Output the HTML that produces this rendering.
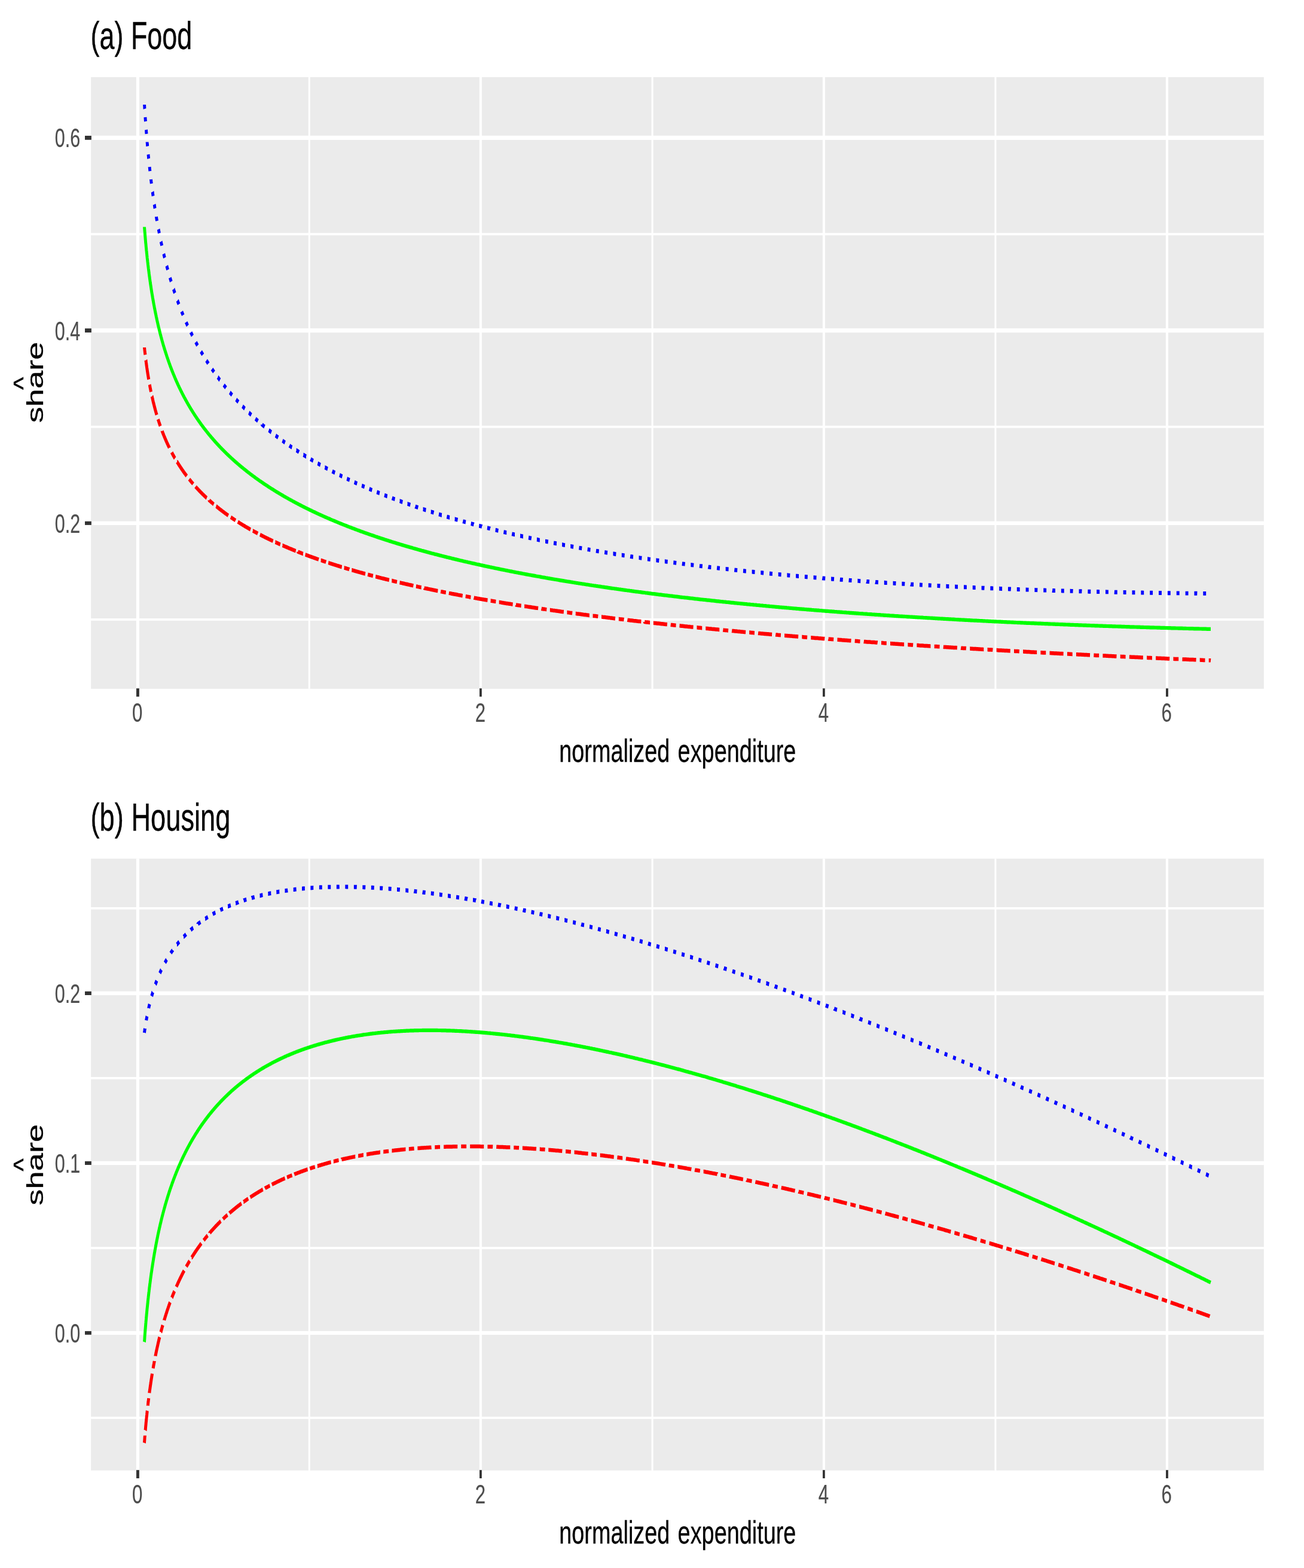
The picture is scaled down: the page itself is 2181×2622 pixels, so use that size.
<!DOCTYPE html>
<html><head><meta charset="utf-8"><title>Engel curves</title>
<style>html,body{margin:0;padding:0;background:#fff}svg{display:block}text{font-family:"Liberation Sans",Arial,Helvetica,sans-serif}</style>
</head><body>
<svg width="2181" height="2622" viewBox="0 0 2181 2622">
<rect width="2181" height="2622" fill="#FFFFFF"/>
<rect x="152.10" y="129.00" width="1961.80" height="1022.80" fill="#EBEBEB"/>
<rect x="152.10" y="389.61" width="1961.80" height="3.80" fill="#FFFFFF"/>
<rect x="152.10" y="711.83" width="1961.80" height="3.80" fill="#FFFFFF"/>
<rect x="152.10" y="1034.05" width="1961.80" height="3.80" fill="#FFFFFF"/>
<rect x="515.73" y="129.00" width="3.00" height="1022.80" fill="#FFFFFF"/>
<rect x="1089.59" y="129.00" width="3.00" height="1022.80" fill="#FFFFFF"/>
<rect x="1663.45" y="129.00" width="3.00" height="1022.80" fill="#FFFFFF"/>
<rect x="152.10" y="226.85" width="1961.80" height="7.10" fill="#FFFFFF"/>
<rect x="152.10" y="549.07" width="1961.80" height="7.10" fill="#FFFFFF"/>
<rect x="152.10" y="871.64" width="1961.80" height="6.40" fill="#FFFFFF"/>
<rect x="227.90" y="129.00" width="5.10" height="1022.80" fill="#FFFFFF"/>
<rect x="801.90" y="129.00" width="4.00" height="1022.80" fill="#FFFFFF"/>
<rect x="1375.90" y="129.00" width="4.00" height="1022.80" fill="#FFFFFF"/>
<rect x="1949.90" y="129.00" width="4.10" height="1022.80" fill="#FFFFFF"/>
<path transform="scale(0.77,1)" d="M313.7,581L313.7,581.2L313.8,581.9L313.9,582.7L314,583.4L314.1,584.1L314.2,584.9L314.3,585.6L314.4,586.3L314.5,586.9L314.6,587.6L314.7,588.4L314.8,589.1L314.9,589.8L315,590.6L315.2,591.3L315.3,591.9L315.3,592.6L315.4,593.2M316.8,602.2L316.9,602.4L317,603.1L317.1,603.8L317.2,604.6L317.4,605.3L317.5,606L317.6,606.6L317.7,607.3L317.8,608.1L318,608.8L318.1,609.5L318.2,610.3L318.3,611L318.4,611.5L318.6,612.3L318.7,613L318.8,613.7L319,614.5L319.1,615.2L319.2,615.8L319.3,616.5L319.5,617.2L319.6,618L319.8,618.7L319.9,619.3L320,620L320.1,620.7L320.3,621.5L320.4,622.2L320.6,622.9L320.7,623.5L320.8,624.2L321,625L321.1,625.7L321.3,626.4L321.4,627.1L321.5,627.7L321.7,628.4L321.9,629.2L322,629.9L322.2,630.6L322.3,631.2L322.4,631.9L322.6,632.7L322.8,633.4L322.9,634.1L323,634.5M325,643.1L325,643.1L325.2,643.8L325.3,644.4L325.5,645.1L325.6,645.9L325.8,646.6L326,647.3L326.1,647.9L326.3,648.6L326.5,649.3L326.7,650.1L326.8,650.6L327,651.4L327.2,652.1L327.4,652.8L327.6,653.6L327.7,654.1L327.9,654.8L328,655.2M330.1,662.8L330.2,662.9L330.4,663.6L330.6,664.4L330.7,664.9L331,665.7L331.2,666.4L331.4,667.1L331.6,667.7L331.8,668.4L332,669.1L332.2,669.9L332.4,670.4L332.6,671.1L332.8,671.9L333,672.4L333.2,673.2L333.5,673.9L333.7,674.6L333.9,675.2L334.1,675.9L334.4,676.6L334.6,677.2L334.8,677.9L335,678.6L335.3,679.4L335.5,679.9L335.7,680.7L336,681.4L336.1,681.9L336.4,682.7L336.6,683.4L336.9,684.1L337.1,684.7L337.3,685.4L337.6,686.2L337.8,686.7L338.1,687.4L338.3,688.2L338.5,688.7L338.8,689.4L339.1,690.2L339.3,690.7L339.5,691.5L339.8,692.2L340,692.7L340.3,693.5L340.4,693.8M343.3,701.1L343.3,701.1L343.6,701.9L343.9,702.4L344.2,703.2L344.5,703.9L344.7,704.4L345,705.2L345.3,705.9L345.6,706.5L345.9,707.2L346.1,707.8L346.4,708.5L346.8,709.2L347,709.7L347.3,710.5L347.7,711.2L347.9,711.8L348.2,712.5M352.2,720.8L352.2,720.9L352.5,721.4L352.8,722.2L353.1,722.7L353.5,723.5L353.8,724.2L354.1,724.7L354.5,725.5L354.8,726L355.2,726.7L355.4,727.3L355.8,728L356.2,728.7L356.5,729.3L356.9,730L357.2,730.6L357.6,731.3L357.9,731.9L358.3,732.6L358.6,733.1L359,733.9L359.3,734.4L359.7,735.1L360,735.8L360.4,736.4L360.8,737.1L361.1,737.7L361.6,738.4L361.9,739L362.3,739.7L362.6,740.3L363.1,741L363.4,741.5L363.8,742.3L364.2,742.8L364.6,743.5L364.9,744.1L365.4,744.8L365.7,745.4L366.2,746.1L366.5,746.6L367,747.4L367.3,747.9L367.8,748.6L367.9,748.9M373,756.5L373.1,756.7L373.5,757.2L373.9,757.9L374.3,758.5L374.7,759.1L375.2,759.8L375.6,760.3L376.1,761.1L376.5,761.6L377,762.3L377.5,762.9L377.9,763.4L378.4,764.2L378.8,764.7L379.3,765.4L379.7,766L380.1,766.4M384.6,772.4L384.7,772.4L385.1,772.9L385.5,773.5L386.1,774.2L386.6,774.7L387.1,775.4L387.6,776L388.1,776.6L388.6,777.3L389.1,777.8L389.6,778.4L390.2,779.1L390.7,779.7L391.1,780.2L391.7,780.9L392.2,781.5L392.7,782L393.3,782.7L393.8,783.3L394.3,783.9L394.8,784.4L395.4,785.1L395.9,785.7L396.4,786.2L397.1,787L397.6,787.5L398.1,788.1L398.7,788.7L399.2,789.3L399.7,789.9L400.3,790.4L400.9,791.2L401.5,791.7L402,792.3L402.5,792.8L403.2,793.5L403.7,794.1L404.3,794.6L404.8,795.2L405.5,795.9L405.6,796M410.9,801.2L410.9,801.2L411.4,801.7L412,802.3L412.6,802.8L413.3,803.5L413.9,804.1L414.5,804.6L415.1,805.2L415.7,805.7L416.4,806.4L417.1,807L417.7,807.6L418.3,808.1L418.9,808.6L419.5,809.2L419.6,809.3M424.7,813.7L424.7,813.7L425.3,814.3L426,814.8L426.6,815.4L427.3,815.9L428,816.5L428.8,817.2L429.5,817.7L430.1,818.3L430.8,818.8L431.5,819.4L432.1,819.9L432.8,820.5L433.5,821L434.2,821.6L435,822.2L435.7,822.8L436.5,823.4L437.2,823.9L437.9,824.5L438.6,825L439.3,825.6L440,826.1L440.7,826.7L441.5,827.2L442.2,827.7L442.9,828.3L443.6,828.8L444.4,829.4L445.1,829.9L445.9,830.5L446.6,831L447.4,831.6L448.1,832.1L448.9,832.7L449.1,832.8M454.5,836.6L454.5,836.7L455.3,837.2L456.1,837.7L456.9,838.3L457.7,838.8L458.5,839.4L459.3,839.9L460.2,840.5L461,841L461.8,841.6L462.6,842.1L463.5,842.7L464.3,843.2L464.3,843.2M469.4,846.5L469.7,846.6L470.5,847.1L471.3,847.6L472,848.1L472.9,848.6L473.8,849.2L474.7,849.7L475.6,850.3L476.5,850.8L477.4,851.4L478.2,851.9L479,852.3L479.8,852.8L480.7,853.4L481.6,853.9L482.6,854.4L483.5,855L484.4,855.5L485.2,856L486,856.4L487,857L487.9,857.5L488.9,858.1L489.8,858.6L490.6,859L491.5,859.5L492.4,860.1L493.4,860.6L494.4,861.2L495.2,861.6L495.9,862M501.2,864.8L501.4,864.9L502.2,865.3L503.2,865.9L504.2,866.4L505.2,866.9L506,867.3L507,867.9L508.1,868.4L509.1,868.9L509.9,869.3L510.9,869.8L511.6,870.2M516.5,872.6L516.7,872.7L517.6,873.2L518.6,873.6L519.7,874.2L520.7,874.7L521.6,875.1L522.7,875.6L523.8,876.1L524.6,876.5L525.8,877.1L526.9,877.6L527.7,878L528.8,878.5L530,879L530.8,879.4L532,880L533,880.5L534,880.9L535.1,881.4L536.1,881.9L537.1,882.3L538.4,882.9L539.2,883.2L540.4,883.8L541.5,884.3L542.4,884.7L543.7,885.2L544.2,885.4M549.2,887.6L549.3,887.6L550.4,888.1L551.6,888.6L552.5,889L553.8,889.5L554.7,889.9L556,890.4L557,890.9L558.2,891.3L559.3,891.8L559.9,892.1M564.8,894L564.8,894L566.2,894.6L567.1,894.9L568.4,895.5L569.3,895.9L570.7,896.4L571.7,896.8L573,897.3L574,897.7L575.4,898.2L576.3,898.6L577.7,899.1L578.6,899.5L580.1,900L581,900.4L582.4,900.9L583.4,901.3L584.8,901.8L585.8,902.2L587.1,902.6L588.3,903L589.4,903.5L590.7,903.9L591.7,904.3L593.1,904.8M598,906.6L598.2,906.6L599.5,907.1L600.7,907.5L601.8,907.9L603.3,908.4L604.3,908.8L605.6,909.3L606.9,909.7L608,910.1L608.9,910.4M613.7,912L613.8,912L614.9,912.4L616.4,912.9L617.5,913.3L618.8,913.7L620.2,914.2L621.3,914.5L622.6,915L624.1,915.4L625.2,915.8L626.5,916.2L627.9,916.7L629,917.1L630.4,917.5L631.8,917.9L633,918.3L634.2,918.7L635.8,919.2L636.9,919.6L638.1,919.9L639.6,920.4L641,920.8L642.1,921.2L642.5,921.3M647.3,922.7L647.3,922.8L648.6,923.1L649.7,923.5L651.2,923.9L652.7,924.4L653.9,924.7L655.1,925.1L656.6,925.5L658.1,926L658.3,926M663.1,927.5L663.6,927.6L664.9,928L666.1,928.3L667.4,928.7L669,929.1L670.5,929.6L671.8,929.9L673,930.3L674.4,930.7L675.9,931.1L677.5,931.5L678.8,931.9L680,932.2L681.3,932.6L682.9,933L684.4,933.4L685.9,933.8L687.2,934.2L688.5,934.6L689.8,934.9L691.4,935.3L692.2,935.6M697.1,936.9L697.2,936.9L698.5,937.2L699.9,937.6L701.4,938L703,938.4L704.5,938.8L706,939.2L707.4,939.5L708.2,939.8M713.2,941L713.7,941.1L715.1,941.5L716.5,941.9L717.9,942.2L719.3,942.6L720.7,942.9L722.3,943.3L723.8,943.7L725.3,944.1L726.9,944.4L728.4,944.8L730,945.2L731.5,945.6L733,945.9L734.5,946.3L736,946.6L737.5,947L738.9,947.4L740.4,947.7L741.9,948.1L742.5,948.2M747.6,949.4L747.7,949.4L749.3,949.8L750.8,950.1L752.4,950.5L753.9,950.9L755.5,951.2L757,951.6L758.6,951.9L758.8,952M764.1,953.2L764.2,953.2L765.8,953.5L767.3,953.9L768.9,954.2L770.5,954.6L772.1,955L773.7,955.3L775.3,955.7L776.9,956L778.6,956.4L780.2,956.7L781.7,957.1L783.3,957.4L784.8,957.7L786.4,958L787.9,958.4L789.4,958.7L791,959L792.5,959.4L793.5,959.6M798.9,960.7L799.3,960.8L801,961.1L802.6,961.5L804.1,961.8L805.7,962.1L807.2,962.4L808.8,962.7L810.2,963M815.8,964.2L816.5,964.3L818,964.6L819.6,964.9L821.1,965.2L822.7,965.5L824.4,965.9L826.2,966.2L828,966.6L829.6,966.9L831.2,967.2L832.7,967.5L834.3,967.8L836.1,968.1L837.9,968.5L839.7,968.8L841.2,969.1L842.7,969.4L844.3,969.7L845.3,969.9M851,971L851.2,971L852.8,971.3L854.6,971.6L856.4,972L858.2,972.3L859.7,972.6L861.3,972.9L862.3,973.1M868.2,974.2L868.8,974.3L870.5,974.6L872.1,974.9L873.7,975.1L875.6,975.5L877.5,975.8L879,976.1L880.6,976.4L882.5,976.7L884.4,977L886,977.3L887.5,977.6L889.4,977.9L891.4,978.3L892.9,978.5L894.5,978.8L896.5,979.1L897.9,979.4M903.8,980.4L904.5,980.5L906.1,980.8L907.7,981.1L909.7,981.4L911.5,981.7L913,981.9L914.9,982.3L915.1,982.3M921.4,983.3L921.5,983.4L923.3,983.7L925.4,984L926.9,984.2L928.6,984.5L930.7,984.9L932.3,985.1L934,985.4L936.1,985.7L937.7,986L939.4,986.2L941.5,986.6L943.1,986.9L944.8,987.1L947,987.5L948.5,987.7L950.3,988L951,988.1M957.3,989.1L957.8,989.2L959.4,989.4L961.4,989.7L963.2,990L964.8,990.2L967,990.6L968.6,990.8M975.1,991.8L975.6,991.9L977.2,992.1L979.4,992.4L981,992.7L983,993L984.8,993.2L986.5,993.5L988.7,993.8L990.3,994L992.3,994.3L994.1,994.6L995.8,994.9L998,995.2L999.5,995.4L1001.8,995.7L1003.4,996L1004.8,996.2M1011.3,997.1L1011.3,997.1L1013.4,997.4L1015,997.6L1017.3,997.9L1018.8,998.1L1021,998.5L1022.6,998.7M1029.3,999.6L1029.6,999.7L1031.2,999.9L1033.4,1000.2L1035,1000.4L1037.1,1000.7L1038.9,1000.9L1040.8,1001.2L1042.8,1001.5L1044.6,1001.7L1046.6,1002L1048.4,1002.2L1050.5,1002.5L1052.2,1002.7L1054.4,1003L1056,1003.2L1058.2,1003.5L1059.1,1003.6M1065.8,1004.5L1065.9,1004.5L1067.7,1004.8L1069.8,1005L1071.6,1005.3L1073.7,1005.5L1075.5,1005.8L1077.1,1006M1084,1006.9L1084.5,1006.9L1086.1,1007.1L1088.3,1007.4L1090.1,1007.7L1092.2,1007.9L1094.1,1008.2L1096.1,1008.4L1098.1,1008.7L1099.9,1008.9L1102.2,1009.2L1103.8,1009.4L1106.1,1009.7L1107.7,1009.8L1110,1010.1L1111.8,1010.4L1113.8,1010.6M1120.7,1011.4L1120.8,1011.5L1122.8,1011.7L1124.6,1011.9L1127,1012.2L1128.5,1012.4L1130.8,1012.7L1132.1,1012.8M1139.1,1013.7L1139.3,1013.7L1141.2,1013.9L1143.2,1014.1L1145.4,1014.4L1147,1014.6L1149.3,1014.9L1151.2,1015.1L1153.2,1015.3L1155.5,1015.6L1157.1,1015.8L1159.4,1016L1161.3,1016.2L1163.2,1016.5L1165.6,1016.7L1167.2,1016.9L1169,1017.1M1176,1017.9L1176.4,1018L1178.7,1018.2L1180.5,1018.4L1182.6,1018.6L1184.9,1018.9L1186.5,1019.1L1187.4,1019.2M1194.6,1020L1194.9,1020L1197,1020.3L1198.8,1020.4L1201.1,1020.7L1203.1,1020.9L1205,1021.1L1207.3,1021.4L1209.3,1021.6L1211.1,1021.8L1213.4,1022L1215.5,1022.2L1217.3,1022.4L1219.6,1022.7L1221.7,1022.9L1223.5,1023.1L1224.5,1023.2M1231.7,1024L1232,1024L1234.2,1024.2L1235.8,1024.4L1238.2,1024.7L1240.5,1024.9L1242.2,1025.1L1243.1,1025.2M1250.4,1025.9L1250.5,1025.9L1252.8,1026.2L1255,1026.4L1256.7,1026.6L1259,1026.8L1261.3,1027L1263.1,1027.2L1265.2,1027.4L1267.5,1027.7L1269.7,1027.9L1271.4,1028L1273.7,1028.3L1276,1028.5L1277.9,1028.7L1279.9,1028.9L1280.3,1028.9M1287.7,1029.7L1287.9,1029.7L1289.9,1029.9L1292.2,1030.1L1294.5,1030.3L1296.3,1030.5L1298.4,1030.7L1299.1,1030.8M1306.5,1031.5L1306.9,1031.5L1309.2,1031.8L1311.5,1032L1313.3,1032.1L1315.4,1032.3L1317.7,1032.6L1320,1032.8L1321.9,1033L1323.9,1033.1L1326.2,1033.4L1328.5,1033.6L1330.6,1033.8L1332.4,1033.9L1334.7,1034.2L1336.4,1034.3M1343.9,1035L1344,1035L1346.3,1035.2L1348.2,1035.4L1350.1,1035.6L1352.5,1035.8L1354.8,1036L1355.3,1036.1M1362.8,1036.7L1363.3,1036.8L1365.6,1037L1367.9,1037.2L1369.7,1037.4L1371.8,1037.5L1374.1,1037.7L1376.4,1038L1378.7,1038.2L1380.6,1038.3L1382.6,1038.5L1384.9,1038.7L1387.2,1038.9L1389.5,1039.1L1391.7,1039.3L1392.7,1039.4M1400.3,1040L1400.3,1040.1L1402.7,1040.3L1404.7,1040.4L1406.6,1040.6L1408.8,1040.8L1411.2,1041L1411.7,1041M1419.3,1041.7L1419.7,1041.7L1421.6,1041.9L1423.5,1042L1425.8,1042.2L1428.2,1042.4L1430.5,1042.6L1432.8,1042.8L1435,1043L1436.9,1043.2L1439,1043.3L1441.3,1043.5L1443.6,1043.7L1445.9,1043.9L1448.2,1044.1L1449.2,1044.2M1456.8,1044.8L1457.5,1044.9L1459.8,1045L1462.1,1045.2L1464.2,1045.4L1466.2,1045.6L1468.3,1045.7M1476,1046.3L1476,1046.3L1478.1,1046.5L1480.1,1046.7L1482.2,1046.8L1484.5,1047L1486.8,1047.2L1489.2,1047.4L1491.5,1047.6L1493.8,1047.8L1496.1,1047.9L1498.2,1048.1L1500.2,1048.3L1502.3,1048.4L1504.6,1048.6L1505.9,1048.7M1513.6,1049.3L1513.9,1049.3L1516.2,1049.5L1518.5,1049.7L1520.7,1049.8L1522.8,1050L1524.8,1050.2L1525,1050.2M1532.8,1050.8L1533.1,1050.8L1535.2,1050.9L1537.3,1051.1L1539.4,1051.3L1541.7,1051.4L1544,1051.6L1546.3,1051.8L1548.6,1051.9L1550.9,1052.1L1553.3,1052.3L1555.6,1052.5L1557.9,1052.6L1560.2,1052.8L1562.5,1053L1562.7,1053M1570.5,1053.5L1571,1053.6L1573.3,1053.8L1575.6,1053.9L1577.8,1054.1L1579.9,1054.2L1581.9,1054.4M1589.7,1054.9L1590.3,1055L1592.7,1055.1L1595,1055.3L1597.3,1055.5L1599.6,1055.6L1601.8,1055.8L1604,1055.9L1606.2,1056.1L1608.4,1056.3L1610.6,1056.4L1612.8,1056.6L1615.1,1056.7L1617.4,1056.9L1619.7,1057M1627.5,1057.6L1628.2,1057.6L1630.5,1057.8L1632.8,1058L1635.1,1058.1L1637.4,1058.3L1638.9,1058.4M1646.8,1058.9L1647.5,1059L1649.8,1059.1L1652.1,1059.3L1654.4,1059.4L1656.8,1059.6L1659.1,1059.7L1661.4,1059.9L1663.7,1060L1666,1060.2L1668.3,1060.3L1670.7,1060.5L1673,1060.7L1675.3,1060.8L1676.8,1060.9M1684.7,1061.4L1685.3,1061.5L1687.6,1061.6L1690,1061.8L1692.3,1061.9L1694.6,1062.1L1696.1,1062.2M1704,1062.7L1704.6,1062.7L1707,1062.9L1709.3,1063L1711.6,1063.2L1713.9,1063.3L1716.2,1063.5L1718.5,1063.6L1720.9,1063.7L1723.2,1063.9L1725.5,1064L1727.8,1064.2L1730.1,1064.3L1732.4,1064.5L1734,1064.6M1741.9,1065.1L1742.5,1065.1L1744.8,1065.2L1747.1,1065.4L1749.4,1065.5L1751.8,1065.7L1753.4,1065.8M1761.4,1066.3L1761.8,1066.3L1764.1,1066.4L1766.4,1066.6L1768.7,1066.7L1771.1,1066.9L1773.4,1067L1775.7,1067.1L1778,1067.3L1780.4,1067.4L1783,1067.6L1785.5,1067.7L1788,1067.9L1790.4,1068L1791.3,1068.1M1799.3,1068.5L1799.6,1068.6L1802,1068.7L1804.3,1068.8L1806.6,1069L1808.9,1069.1L1810.7,1069.2M1818.8,1069.7L1818.9,1069.7L1821.3,1069.8L1823.7,1070L1826.2,1070.1L1828.8,1070.3L1831.3,1070.4L1833.6,1070.5L1835.9,1070.7L1838.3,1070.8L1840.6,1070.9L1842.9,1071.1L1845.2,1071.2L1847.5,1071.3L1848.7,1071.4M1856.8,1071.8L1856.8,1071.8L1859.1,1072L1861.4,1072.1L1863.7,1072.2L1866.1,1072.4L1868.2,1072.5M1876.3,1072.9L1876.9,1073L1879.2,1073.1L1881.5,1073.2L1884.1,1073.4L1886.8,1073.5L1889.2,1073.6L1891.5,1073.8L1893.9,1073.9L1896.2,1074L1898.5,1074.1L1900.8,1074.3L1903.1,1074.4L1905.7,1074.5L1906.2,1074.6M1914.3,1075L1914.7,1075L1917,1075.1L1919.4,1075.3L1922.1,1075.4L1924.7,1075.6L1925.7,1075.6M1933.8,1076L1934,1076L1936.3,1076.2L1938.7,1076.3L1941.4,1076.4L1944.1,1076.6L1946.4,1076.7L1948.7,1076.8L1951,1076.9L1953.3,1077.1L1955.6,1077.2L1958.2,1077.3L1961,1077.5L1963.4,1077.6L1963.8,1077.6M1971.9,1078L1972.3,1078L1974.9,1078.2L1977.3,1078.3L1979.6,1078.4L1981.9,1078.5L1983.3,1078.6M1991.4,1079L1991.9,1079L1994.3,1079.1L1996.6,1079.3L1998.9,1079.4L2001.2,1079.5L2003.7,1079.6L2006.6,1079.8L2008.9,1079.9L2011.2,1080L2013.6,1080.1L2015.9,1080.2L2018.2,1080.3L2021.1,1080.5L2021.4,1080.5M2029.5,1080.9L2029.8,1080.9L2032.1,1081L2034.4,1081.1L2036.7,1081.2L2039.1,1081.3L2041,1081.4M2049.1,1081.8L2049.9,1081.9L2052.2,1082L2054.5,1082.1L2056.8,1082.2L2059.4,1082.3L2062.2,1082.5L2064.5,1082.6L2066.9,1082.7L2069.2,1082.8L2071.5,1082.9L2074.3,1083L2076.9,1083.1L2079.1,1083.3M2087.2,1083.6L2087.7,1083.7L2090,1083.8L2092.4,1083.9L2095.4,1084L2097.7,1084.1L2098.6,1084.2M2106.8,1084.5L2107,1084.5L2109.3,1084.7L2111.6,1084.8L2114,1084.9L2116.8,1085L2119.4,1085.1L2121.7,1085.2L2124,1085.3L2126.3,1085.4L2129.2,1085.6L2131.7,1085.7L2134,1085.8L2136.4,1085.9L2136.8,1085.9M2144.9,1086.3L2145.6,1086.3L2147.9,1086.4L2151,1086.5L2153.4,1086.6L2155.7,1086.7L2156.4,1086.8M2164.5,1087.1L2164.9,1087.1L2167.3,1087.2L2169.9,1087.4L2172.7,1087.5L2175,1087.6L2177.3,1087.7L2179.6,1087.8L2182.6,1087.9L2185,1088L2187.3,1088.1L2189.7,1088.2L2192.1,1088.3L2194.5,1088.4M2202.6,1088.8L2202.8,1088.8L2205.1,1088.9L2208.2,1089L2210.5,1089.1L2212.8,1089.2L2214.1,1089.3M2222.2,1089.6L2222.9,1089.6L2225.2,1089.7L2227.7,1089.8L2230.6,1089.9L2232.9,1090L2235.2,1090.1L2237.5,1090.2L2240.6,1090.4L2242.9,1090.5L2245.3,1090.6L2247.6,1090.7L2250.6,1090.8L2252.2,1090.8M2260.3,1091.2L2260.6,1091.2L2263,1091.3L2265.3,1091.4L2267.7,1091.5L2270.5,1091.6L2271.8,1091.6M2279.9,1092L2280,1092L2282.3,1092.1L2284.6,1092.2L2287.3,1092.3L2290.1,1092.4L2292.4,1092.5L2294.7,1092.6L2297.4,1092.7L2300.1,1092.8L2302.4,1092.9L2304.7,1093L2307.6,1093.1L2309.9,1093.2M2318.1,1093.5L2318.6,1093.5L2321.2,1093.6L2324,1093.7L2326.4,1093.8L2328.7,1093.9L2329.5,1093.9M2337.6,1094.2L2337.9,1094.2L2340.3,1094.3L2342.6,1094.4L2345.3,1094.5L2348,1094.6L2350.3,1094.7L2352.6,1094.8L2355.7,1094.9L2358,1095L2360.3,1095.1L2362.7,1095.2L2365.7,1095.3L2367.6,1095.4M2375.8,1095.7L2375.8,1095.7L2378.1,1095.8L2380.4,1095.9L2383.5,1096L2385.8,1096.1L2387.2,1096.1M2395.3,1096.4L2395.9,1096.4L2398.2,1096.5L2401.3,1096.6L2403.6,1096.7L2405.9,1096.8L2408.5,1096.9L2411.3,1097L2413.6,1097.1L2415.9,1097.2L2419,1097.3L2421.3,1097.4L2423.7,1097.4L2425.3,1097.5M2433.4,1097.8L2433.6,1097.8L2436,1097.9L2438.3,1098L2440.9,1098.1L2443.7,1098.2L2444.9,1098.2M2453,1098.5L2453,1098.5L2455.4,1098.6L2458.4,1098.7L2460.7,1098.8L2463.1,1098.8L2466.1,1099L2468.5,1099L2470.8,1099.1L2473.7,1099.2L2476.2,1099.3L2478.5,1099.4L2481.1,1099.5L2482.9,1099.5M2491,1099.8L2491.6,1099.8L2493.9,1099.9L2496.3,1100L2499.3,1100.1L2501.7,1100.2L2502.5,1100.2M2510.5,1100.5L2510.8,1100.5L2513.3,1100.6L2515.6,1100.7L2518.3,1100.7L2521,1100.8L2523.3,1100.9L2525.8,1101L2528.7,1101.1L2531,1101.2L2533.4,1101.3L2536.4,1101.4L2538.7,1101.4L2540.5,1101.5M2548.6,1101.8L2548.8,1101.8L2551.9,1101.9L2554.2,1101.9L2556.5,1102L2559.6,1102.1L2560,1102.1M2568.1,1102.4L2568.1,1102.4L2571.2,1102.5L2573.5,1102.6L2575.8,1102.6L2578.9,1102.7L2581.2,1102.8L2583.5,1102.9L2586.6,1103L2588.9,1103.1L2591.3,1103.1L2594.3,1103.2L2596.7,1103.3L2598.1,1103.4M2606.1,1103.6L2606.3,1103.6L2609,1103.7L2611.3,1103.8L2614.2,1103.9L2616.7,1104L2617.5,1104M2625.6,1104.2L2625.9,1104.2L2626,1104.2L2626.8,1104.3L2627.6,1104.3L2628.3,1104.3L2629.1,1104.3L2629.9,1104.4" fill="none" stroke="#FF0000" stroke-width="6.5" stroke-linejoin="round"/>
<path transform="scale(0.8,1)" d="M301.9,379.6L301.9,379.9L302,380.9L302.1,381.9L302.2,382.9L302.3,383.9L302.4,384.9L302.5,385.9L302.6,386.9L302.7,387.6L302.8,388.6L302.9,389.6L303,390.6L303.1,391.6L303.2,392.6L303.3,393.6L303.4,394.5L303.5,395.4L303.6,396.4L303.7,397.4L303.8,398.4L303.9,399.4L304,400.4L304.1,401.3L304.2,402.1L304.3,403.1L304.4,404.1L304.5,405.1L304.6,406.1L304.8,407.1L304.9,408L305,408.8L305.1,409.8L305.2,410.8L305.3,411.8L305.4,412.8L305.6,413.8L305.6,414.6L305.8,415.6L305.9,416.6L306,417.6L306.1,418.6L306.3,419.6L306.4,420.4L306.5,421.3L306.6,422.3L306.7,423.3L306.9,424.3L307,425.3L307.1,426.2L307.2,427.1L307.3,428.1L307.5,429.1L307.6,430.1L307.7,431.1L307.8,431.8L308,432.8L308.1,433.8L308.3,434.8L308.4,435.8L308.5,436.8L308.6,437.5L308.8,438.5L308.9,439.5L309.1,440.5L309.2,441.5L309.3,442.4L309.5,443.3L309.6,444.3L309.8,445.3L309.9,446.3L310.1,447.3L310.2,448L310.3,449L310.5,450L310.6,451L310.8,452L310.9,452.7L311.1,453.7L311.2,454.7L311.4,455.7L311.5,456.7L311.6,457.5L311.8,458.5L312,459.5L312.1,460.5L312.3,461.5L312.4,462.2L312.6,463.2L312.8,464.2L312.9,465.2L313.1,465.9L313.2,466.9L313.4,467.9L313.6,468.9L313.7,469.9L313.9,470.7L314.1,471.7L314.2,472.7L314.4,473.7L314.5,474.4L314.7,475.4L314.9,476.4L315.1,477.4L315.3,478.4L315.4,479.1L315.6,480.1L315.8,481.1L316,482.1L316.1,482.9L316.3,483.9L316.5,484.9L316.7,485.9L316.9,486.6L317,487.6L317.2,488.6L317.4,489.6L317.6,490.3L317.8,491.3L318,492.3L318.2,493.3L318.4,494.1L318.6,495.1L318.8,496.1L319,497.1L319.1,497.8L319.4,498.8L319.6,499.8L319.7,500.6L319.9,501.5L320.2,502.5L320.4,503.5L320.6,504.3L320.8,505.3L321,506.3L321.2,507.3L321.4,508L321.6,509L321.8,510L322,510.7L322.3,511.7L322.5,512.7L322.7,513.7L322.9,514.5L323.1,515.5L323.4,516.5L323.6,517.2L323.8,518.2L324,519.2L324.2,519.9L324.5,520.9L324.7,521.9L324.9,522.8L325.2,523.7L325.4,524.7L325.7,525.7L325.9,526.4L326.1,527.4L326.4,528.4L326.6,529.1L326.8,530.1L327.1,531.1L327.3,531.9L327.6,532.9L327.8,533.9L328,534.6L328.3,535.6L328.6,536.6L328.8,537.3L329.1,538.3L329.4,539.3L329.6,540.1L329.9,541.1L330.1,542.1L330.4,542.8L330.6,543.8L330.9,544.6L331.1,545.5L331.4,546.5L331.7,547.3L332,548.3L332.3,549.3L332.5,550L332.8,551L333.1,552L333.3,552.7L333.6,553.7L333.9,554.5L334.2,555.5L334.5,556.5L334.7,557.2L335,558.2L335.3,559.1L335.6,560L335.9,560.9L336.2,561.7L336.5,562.7L336.8,563.7L337.1,564.4L337.4,565.4L337.7,566.2L338,567.2L338.3,568.1L338.6,568.9L339,569.9L339.2,570.6L339.6,571.6L339.8,572.4L340.2,573.4L340.5,574.4L340.8,575.1L341.2,576.1L341.4,576.8L341.8,577.8L342.1,578.6L342.4,579.6L342.8,580.5L343.1,581.3L343.5,582.3L343.7,583L344.1,584L344.4,584.8L344.8,585.8L345.1,586.5L345.5,587.5L345.8,588.3L346.2,589.3L346.5,590.1L346.9,591L347.2,591.9L347.6,592.7L348,593.7L348.3,594.5L348.7,595.5L349,596.2L349.4,597.2L349.7,597.9L350.1,598.9L350.5,599.7L350.9,600.7L351.2,601.4L351.6,602.4L352,603.2L352.4,604.1L352.7,604.9L353.2,605.9L353.5,606.6L353.9,607.6L354.3,608.4L354.7,609.2L355.1,610.1L355.4,610.9L355.9,611.8L356.2,612.6L356.7,613.6L357,614.3L357.5,615.3L357.9,616L358.3,617L358.7,617.8L359.1,618.7L359.5,619.5L359.9,620.3L360.4,621.3L360.8,622L361.2,623L361.6,623.7L362.1,624.7L362.5,625.5L362.9,626.2L363.4,627.2L363.8,627.9L364.3,628.9L364.7,629.7L365.1,630.5L365.6,631.4L366,632.2L366.5,633.2L366.9,633.9L367.3,634.6L367.9,635.6L368.3,636.4L368.8,637.3L369.2,638.1L369.6,638.9L370.2,639.8L370.6,640.6L371,641.3L371.6,642.3L372,643.1L372.5,643.9L373,644.8L373.5,645.5L374,646.5L374.5,647.3L374.9,648L375.5,649L376,649.8L376.4,650.5L377,651.4L377.5,652.2L377.9,653L378.5,653.8L379,654.7L379.5,655.4L379.9,656.2L380.5,657.2L381,657.9L381.5,658.7L382.1,659.7L382.6,660.4L383.1,661.1L383.7,662L384.2,662.9L384.7,663.6L385.2,664.4L385.9,665.3L386.4,666.1L386.9,666.8L387.4,667.6L388.1,668.6L388.6,669.3L389.1,670L389.6,670.8L390.3,671.8L390.8,672.5L391.3,673.3L391.9,674L392.6,675L393.1,675.7L393.6,676.5L394.2,677.2L394.8,678.1L395.4,678.9L396,679.7L396.5,680.4L397.1,681.2L397.8,682.1L398.4,682.9L398.9,683.6L399.5,684.4L400.1,685.1L400.8,686L401.4,686.9L402,687.6L402.6,688.3L403.2,689.1L403.7,689.8L404.5,690.7L405.1,691.5L405.7,692.3L406.3,693L406.9,693.8L407.5,694.5L408.2,695.3L408.9,696.2L409.6,697L410.2,697.7L410.8,698.5L411.4,699.2L412.1,699.9L412.7,700.7L413.4,701.5L414.1,702.3L414.8,703.1L415.5,703.9L416.1,704.6L416.8,705.4L417.4,706.1L418.1,706.8L418.8,707.6L419.4,708.3L420.1,709.1L420.8,709.9L421.6,710.7L422.3,711.5L423,712.3L423.7,713L424.4,713.7L425.1,714.5L425.8,715.2L426.5,716L427.2,716.7L427.9,717.4L428.6,718.2L429.4,718.9L430.1,719.6L430.8,720.4L431.5,721.1L432.3,721.9L433,722.6L433.7,723.3L434.5,724.1L435.2,724.8L436,725.6L436.7,726.3L437.5,727L438.2,727.8L439,728.5L439.8,729.2L440.6,730L441.3,730.7L442.1,731.5L442.9,732.2L443.7,732.9L444.5,733.7L445.3,734.4L446.1,735.1L446.9,735.9L447.6,736.5L448.3,737.2L449.1,737.9L449.9,738.6L450.7,739.3L451.5,740.1L452.4,740.8L453.2,741.5L454,742.3L454.9,743L455.7,743.7L456.5,744.4L457.3,745L458,745.7L458.9,746.4L459.8,747.2L460.6,747.9L461.5,748.6L462.4,749.4L463.2,750L463.9,750.7L464.8,751.3L465.7,752.1L466.6,752.8L467.5,753.5L468.4,754.3L469.2,754.9L469.9,755.5L470.9,756.2L471.8,757L472.7,757.7L473.6,758.4L474.4,759L475.2,759.7L476.2,760.4L477.2,761.1L478.1,761.8L478.8,762.4L479.7,763.1L480.7,763.8L481.7,764.5L482.5,765.2L483.3,765.8L484.3,766.5L485.3,767.2L486.2,767.9L487,768.4L488,769.2L489,769.9L490,770.6L490.8,771.1L491.8,771.9L492.8,772.6L493.7,773.2L494.6,773.8L495.6,774.5L496.7,775.3L497.4,775.8L498.5,776.5L499.5,777.2L500.4,777.8L501.3,778.4L502.4,779.2L503.3,779.8L504.2,780.4L505.3,781.1L506.3,781.8L507.2,782.3L508.3,783.1L509.3,783.7L510.2,784.3L511.3,785L512.3,785.6L513.2,786.2L514.4,787L515.2,787.5L516.3,788.2L517.4,788.9L518.2,789.4L519.4,790.1L520.4,790.8L521.4,791.3L522.5,792.1L523.4,792.6L524.5,793.3L525.6,793.9L526.5,794.5L527.8,795.2L528.6,795.7L529.8,796.4L530.9,797L531.9,797.6L533.1,798.3L533.9,798.8L535.2,799.6L536.1,800.1L537.3,800.8L538.3,801.4L539.4,802L540.5,802.6L541.5,803.2L542.7,803.9L543.7,804.4L545,805.1L545.9,805.6L547.2,806.3L548.1,806.8L549.4,807.5L550.3,808L551.6,808.8L552.5,809.2L553.9,810L554.8,810.4L556.1,811.2L557,811.6L558.4,812.3L559.3,812.8L560.6,813.5L561.6,814.1L562.8,814.7L563.9,815.3L565,815.8L566.3,816.5L567.3,817L568.7,817.7L569.6,818.1L571,818.8L572,819.3L573.2,820L574.4,820.5L575.5,821.1L576.8,821.7L577.8,822.2L579.2,822.9L580.3,823.4L581.4,824L582.8,824.6L583.8,825.1L585.1,825.7L586.3,826.3L587.3,826.8L588.8,827.5L589.8,828L591.1,828.5L592.4,829.2L593.4,829.7L594.8,830.3L596,830.9L597.1,831.3L598.5,832L599.7,832.5L600.8,833L602.2,833.7L603.4,834.2L604.5,834.7L605.9,835.3L607.2,835.9L608.3,836.3L609.6,836.9L611,837.5L612.1,838L613.4,838.6L614.8,839.2L616,839.7L617.1,840.2L618.6,840.8L619.9,841.3L621,841.8L622.3,842.4L623.8,843L625,843.5L626.1,844L627.5,844.5L629,845.1L630.1,845.6L631.3,846.1L632.7,846.7L634.2,847.3L635.4,847.8L636.6,848.2L637.9,848.8L639.4,849.4L640.7,849.9L641.9,850.4L643.1,850.8L644.6,851.4L646.1,852L647.3,852.5L648.6,853L649.8,853.4L651.3,854L652.8,854.6L654.1,855.1L655.3,855.6L656.6,856L658,856.5L659.5,857.1L660.9,857.7L662.2,858.1L663.5,858.6L664.8,859.1L666.1,859.6L667.6,860.1L669.1,860.7L670.6,861.2L671.9,861.7L673.2,862.1L674.5,862.6L675.8,863.1L677.3,863.6L678.8,864.2L680.3,864.7L681.7,865.2L683.1,865.7L684.4,866.1L685.8,866.6L687.1,867.1L688.5,867.5L689.9,868L691.4,868.6L692.9,869.1L694.4,869.6L695.9,870.1L697.4,870.6L698.8,871L700.2,871.5L701.6,872L703,872.4L704.4,872.9L705.8,873.4L707.2,873.8L708.6,874.3L710,874.8L711.5,875.2L713,875.7L714.5,876.2L715.9,876.7L717.4,877.2L718.9,877.6L720.4,878.1L721.9,878.6L723.4,879L724.9,879.5L726.4,880L727.8,880.4L729.3,880.9L730.8,881.4L732.3,881.8L733.8,882.3L735.3,882.7L736.8,883.2L738.3,883.6L739.7,884.1L741.2,884.5L742.7,885L744.2,885.4L745.8,885.9L747.3,886.4L748.9,886.8L750.4,887.3L752,887.7L753.6,888.2L755.2,888.7L756.8,889.1L758.3,889.6L759.8,890L761.3,890.4L762.8,890.9L764.3,891.3L765.8,891.7L767.2,892.1L768.8,892.6L770.4,893L772.1,893.5L773.7,893.9L775.4,894.4L776.9,894.8L778.4,895.2L779.9,895.6L781.4,896L782.9,896.4L784.5,896.9L786.2,897.4L787.9,897.8L789.5,898.3L791,898.7L792.5,899.1L794,899.4L795.6,899.9L797.3,900.3L799,900.8L800.7,901.2L802.2,901.6L803.7,902L805.2,902.4L806.9,902.8L808.6,903.3L810.4,903.7L811.8,904.1L813.3,904.5L814.8,904.9L816.6,905.3L818.4,905.8L820,906.2L821.5,906.5L823,906.9L824.7,907.3L826.5,907.8L828.2,908.2L829.7,908.6L831.2,908.9L833,909.4L834.8,909.8L836.4,910.2L837.9,910.5L839.5,910.9L841.3,911.4L843.1,911.8L844.6,912.2L846,912.5L847.9,913L849.8,913.4L851.2,913.7L852.7,914.1L854.6,914.5L856.4,914.9L857.9,915.3L859.4,915.6L861.4,916.1L863.1,916.5L864.6,916.8L866.2,917.2L868.2,917.6L869.8,918L871.3,918.3L873.1,918.8L875,919.2L876.5,919.5L878.1,919.9L880.1,920.3L881.7,920.7L883.2,921L885.1,921.4L886.9,921.8L888.4,922.1L890.2,922.5L892.1,922.9L893.6,923.3L895.3,923.6L897.3,924.1L898.8,924.4L900.5,924.7L902.5,925.2L904,925.5L905.7,925.8L907.7,926.3L909.2,926.6L910.9,926.9L912.9,927.3L914.4,927.6L916.2,928L918.1,928.4L919.6,928.7L921.6,929.1L923.3,929.5L924.8,929.8L927,930.2L928.6,930.5L930.2,930.9L932.3,931.3L933.8,931.6L935.7,932L937.5,932.3L939,932.6L941.2,933L942.7,933.3L944.5,933.7L946.4,934.1L947.9,934.4L950.1,934.8L951.6,935.1L953.4,935.4L955.3,935.8L956.8,936.1L959,936.5L960.5,936.8L962.5,937.2L964.2,937.5L966,937.8L968,938.2L969.4,938.5L971.7,938.9L973.2,939.2L975.2,939.5L976.9,939.8L978.7,940.2L980.6,940.5L982.2,940.8L984.3,941.2L985.8,941.5L988,941.9L989.5,942.1L991.7,942.5L993.2,942.8L995.3,943.2L996.9,943.5L998.9,943.8L1000.7,944.1L1002.5,944.4L1004.4,944.8L1006.1,945.1L1008.1,945.4L1009.8,945.7L1011.8,946.1L1013.4,946.4L1015.5,946.7L1017.1,947L1019.2,947.4L1020.8,947.6L1023,948L1024.6,948.3L1026.7,948.6L1028.3,948.9L1030.4,949.2L1032.1,949.5L1034.1,949.9L1035.9,950.2L1037.8,950.5L1039.7,950.8L1041.5,951.1L1043.5,951.4L1045.3,951.7L1047.4,952.1L1049,952.3L1051.2,952.7L1052.7,952.9L1054.9,953.3L1056.4,953.5L1058.6,953.9L1060.3,954.1L1062.4,954.5L1064.3,954.8L1066.1,955.1L1068.2,955.4L1069.8,955.6L1072,956L1073.5,956.2L1075.7,956.6L1077.5,956.8L1079.5,957.2L1081.5,957.5L1083.2,957.7L1085.4,958.1L1086.9,958.3L1089.1,958.6L1091,958.9L1092.8,959.2L1095.1,959.5L1096.6,959.8L1098.8,960.1L1100.6,960.4L1102.5,960.6L1104.7,961L1106.2,961.2L1108.4,961.5L1110.2,961.8L1112.2,962.1L1114.4,962.4L1115.9,962.6L1118.1,962.9L1120,963.2L1121.8,963.5L1124.1,963.8L1125.7,964L1127.8,964.3L1130,964.6L1131.5,964.9L1133.7,965.2L1135.7,965.5L1137.4,965.7L1139.7,966L1141.4,966.3L1143.4,966.5L1145.6,966.9L1147.2,967.1L1149.3,967.4L1151.6,967.7L1153.1,967.9L1155.3,968.2L1157.5,968.5L1159,968.7L1161.2,969L1163.4,969.3L1164.9,969.5L1167.2,969.8L1169.3,970.1L1170.9,970.3L1173.1,970.6L1175.3,970.9L1176.8,971.1L1179.1,971.4L1181.3,971.7L1182.9,971.9L1185,972.2L1187.2,972.5L1188.9,972.7L1191,972.9L1193.2,973.2L1195.1,973.5L1196.9,973.7L1199.1,974L1201.2,974.3L1202.9,974.5L1205.1,974.8L1207.3,975L1209,975.3L1211,975.5L1213.3,975.8L1215.2,976L1217,976.3L1219.2,976.5L1221.4,976.8L1223.1,977L1225.2,977.3L1227.4,977.5L1229.5,977.8L1231.1,978L1233.3,978.3L1235.6,978.5L1237.5,978.8L1239.3,979L1241.5,979.3L1243.7,979.5L1245.5,979.7L1247.5,980L1249.7,980.2L1251.9,980.5L1253.7,980.7L1255.6,980.9L1257.9,981.2L1260.1,981.5L1261.9,981.7L1263.8,981.9L1266,982.2L1268.3,982.4L1270.2,982.6L1272,982.9L1274.2,983.1L1276.4,983.4L1278.5,983.6L1280.2,983.8L1282.4,984L1284.6,984.3L1286.9,984.5L1288.6,984.7L1290.6,985L1292.8,985.2L1295,985.5L1297.1,985.7L1298.8,985.9L1301,986.1L1303.2,986.4L1305.4,986.6L1307.4,986.8L1309.2,987L1311.4,987.3L1313.6,987.5L1315.8,987.7L1317.8,988L1319.6,988.1L1321.8,988.4L1324,988.6L1326.3,988.9L1328.3,989.1L1330.1,989.3L1332.2,989.5L1334.4,989.7L1336.7,990L1338.9,990.2L1340.7,990.4L1342.6,990.6L1344.8,990.8L1347.1,991L1349.3,991.3L1351.5,991.5L1353.3,991.7L1355.2,991.9L1357.5,992.1L1359.7,992.3L1361.9,992.6L1364.2,992.8L1366,993L1367.9,993.2L1370.1,993.4L1372.3,993.6L1374.6,993.8L1376.8,994.1L1378.8,994.3L1380.7,994.4L1382.7,994.6L1385,994.9L1387.2,995.1L1389.4,995.3L1391.7,995.5L1393.7,995.7L1395.6,995.9L1397.6,996.1L1399.8,996.3L1402.1,996.5L1404.3,996.7L1406.5,996.9L1408.8,997.2L1410.7,997.3L1412.6,997.5L1414.7,997.7L1416.9,997.9L1419.2,998.1L1421.4,998.4L1423.6,998.6L1425.9,998.8L1427.9,999L1429.8,999.1L1431.8,999.3L1434,999.5L1436.3,999.7L1438.5,999.9L1440.7,1000.1L1443,1000.3L1445.2,1000.5L1447.4,1000.7L1449.3,1000.9L1451.3,1001.1L1453.4,1001.3L1455.6,1001.5L1457.8,1001.7L1460.1,1001.9L1462.3,1002.1L1464.5,1002.3L1466.7,1002.5L1469,1002.7L1471.1,1002.8L1473.2,1003L1475.2,1003.2L1477.2,1003.4L1479.4,1003.6L1481.6,1003.7L1483.8,1003.9L1486.1,1004.1L1488.3,1004.3L1490.5,1004.5L1492.8,1004.7L1495,1004.9L1497.2,1005.1L1499.5,1005.3L1501.6,1005.4L1503.6,1005.6L1505.7,1005.8L1507.7,1006L1509.9,1006.1L1512.1,1006.3L1514.3,1006.5L1516.6,1006.7L1518.8,1006.9L1521,1007L1523.2,1007.2L1525.5,1007.4L1527.7,1007.6L1529.9,1007.8L1532.2,1007.9L1534.4,1008.1L1536.6,1008.3L1538.9,1008.5L1541.1,1008.7L1543.3,1008.8L1545.5,1009L1547.6,1009.2L1549.7,1009.3L1551.9,1009.5L1554,1009.7L1556.2,1009.8L1558.3,1010L1560.5,1010.2L1562.6,1010.4L1564.9,1010.5L1567.1,1010.7L1569.3,1010.9L1571.6,1011L1573.8,1011.2L1576,1011.4L1578.3,1011.5L1580.5,1011.7L1582.7,1011.9L1584.9,1012L1587.2,1012.2L1589.4,1012.4L1591.6,1012.5L1593.9,1012.7L1596.1,1012.9L1598.3,1013L1600.6,1013.2L1602.8,1013.4L1605,1013.5L1607.2,1013.7L1609.5,1013.9L1611.7,1014L1613.9,1014.2L1616.2,1014.3L1618.4,1014.5L1620.6,1014.7L1622.9,1014.8L1625.1,1015L1627.3,1015.1L1629.5,1015.3L1631.8,1015.5L1634,1015.6L1636.2,1015.8L1638.5,1015.9L1640.7,1016.1L1642.9,1016.2L1645.2,1016.4L1647.4,1016.5L1649.6,1016.7L1651.9,1016.8L1654.2,1017L1656.5,1017.2L1658.8,1017.3L1661.2,1017.5L1663.5,1017.6L1665.8,1017.8L1668.2,1018L1670.4,1018.1L1672.7,1018.3L1674.9,1018.4L1677.1,1018.6L1679.4,1018.7L1681.6,1018.8L1683.8,1019L1686,1019.1L1688.3,1019.3L1690.5,1019.4L1692.7,1019.6L1695,1019.7L1697.2,1019.9L1699.4,1020L1701.7,1020.2L1703.9,1020.3L1706.1,1020.4L1708.4,1020.6L1710.8,1020.7L1713.3,1020.9L1715.7,1021L1718,1021.2L1720.2,1021.3L1722.5,1021.5L1724.7,1021.6L1726.9,1021.8L1729.2,1021.9L1731.4,1022L1733.6,1022.2L1735.8,1022.3L1738.1,1022.4L1740.3,1022.6L1742.5,1022.7L1745,1022.9L1747.4,1023L1749.9,1023.2L1752.2,1023.3L1754.4,1023.4L1756.7,1023.6L1758.9,1023.7L1761.1,1023.8L1763.4,1024L1765.6,1024.1L1767.8,1024.2L1770,1024.4L1772.3,1024.5L1774.9,1024.6L1777.4,1024.8L1779.7,1024.9L1781.9,1025.1L1784.2,1025.2L1786.4,1025.3L1788.6,1025.4L1790.9,1025.6L1793.1,1025.7L1795.3,1025.8L1797.7,1026L1800.2,1026.1L1802.8,1026.2L1805,1026.4L1807.2,1026.5L1809.4,1026.6L1811.7,1026.7L1813.9,1026.9L1816.1,1027L1818.4,1027.1L1820.8,1027.2L1823.4,1027.4L1825.8,1027.5L1828,1027.6L1830.3,1027.8L1832.5,1027.9L1834.7,1028L1836.9,1028.1L1839.2,1028.2L1841.7,1028.4L1844.4,1028.5L1846.6,1028.6L1848.8,1028.8L1851.1,1028.9L1853.3,1029L1855.5,1029.1L1857.8,1029.2L1860.3,1029.4L1862.9,1029.5L1865.2,1029.6L1867.4,1029.7L1869.7,1029.8L1871.9,1030L1874.1,1030.1L1876.3,1030.2L1879,1030.3L1881.5,1030.5L1883.8,1030.6L1886,1030.7L1888.2,1030.8L1890.5,1030.9L1892.7,1031L1895.2,1031.1L1897.9,1031.3L1900.1,1031.4L1902.4,1031.5L1904.6,1031.6L1906.8,1031.7L1909.1,1031.8L1911.6,1031.9L1914.3,1032.1L1916.5,1032.2L1918.7,1032.3L1920.9,1032.4L1923.2,1032.5L1925.4,1032.6L1928.2,1032.7L1930.6,1032.9L1932.8,1033L1935.1,1033.1L1937.3,1033.2L1939.5,1033.3L1942.2,1033.4L1944.7,1033.5L1947,1033.6L1949.2,1033.7L1951.4,1033.8L1953.7,1033.9L1956.2,1034.1L1958.9,1034.2L1961.1,1034.3L1963.3,1034.4L1965.5,1034.5L1967.8,1034.6L1970.4,1034.7L1973,1034.8L1975.2,1034.9L1977.4,1035L1979.7,1035.1L1981.9,1035.2L1984.7,1035.3L1987.1,1035.4L1989.3,1035.5L1991.6,1035.6L1993.8,1035.7L1996.2,1035.8L1999,1036L2001.2,1036.1L2003.5,1036.2L2005.7,1036.3L2007.9,1036.3L2010.7,1036.5L2013.1,1036.6L2015.4,1036.7L2017.6,1036.8L2019.8,1036.9L2022.4,1037L2025,1037.1L2027.2,1037.2L2029.5,1037.3L2031.7,1037.3L2034.2,1037.5L2036.9,1037.6L2039.1,1037.7L2041.4,1037.7L2043.6,1037.8L2046.1,1037.9L2048.8,1038L2051,1038.1L2053.3,1038.2L2055.5,1038.3L2058,1038.4L2060.7,1038.5L2062.9,1038.6L2065.2,1038.7L2067.4,1038.8L2070,1038.9L2072.6,1039L2074.8,1039.1L2077.1,1039.2L2079.3,1039.3L2082.1,1039.4L2084.5,1039.5L2086.7,1039.5L2088.9,1039.6L2091.3,1039.7L2094.2,1039.8L2096.4,1039.9L2098.6,1040L2100.8,1040.1L2103.5,1040.2L2106,1040.3L2108.3,1040.4L2110.5,1040.4L2112.8,1040.5L2115.7,1040.6L2117.9,1040.7L2120.2,1040.8L2122.4,1040.9L2125.2,1041L2127.6,1041.1L2129.8,1041.1L2132.1,1041.2L2134.5,1041.3L2137.3,1041.4L2139.5,1041.5L2141.7,1041.6L2144,1041.6L2146.9,1041.8L2149.2,1041.8L2151.4,1041.9L2153.6,1042L2156.5,1042.1L2158.8,1042.2L2161.1,1042.2L2163.3,1042.3L2166,1042.4L2168.5,1042.5L2170.7,1042.6L2172.9,1042.7L2175.6,1042.7L2178.2,1042.8L2180.4,1042.9L2182.6,1043L2185.2,1043.1L2187.8,1043.2L2190,1043.2L2192.3,1043.3L2194.9,1043.4L2197.5,1043.5L2199.7,1043.5L2201.9,1043.6L2204.6,1043.7L2207.1,1043.8L2209.4,1043.9L2211.6,1043.9L2214.3,1044L2216.8,1044.1L2219,1044.2L2221.3,1044.2L2224.1,1044.3L2226.5,1044.4L2228.7,1044.5L2230.9,1044.5L2233.9,1044.6L2236.1,1044.7L2238.4,1044.8L2240.6,1044.8L2243.6,1044.9L2245.8,1045L2248,1045.1L2250.5,1045.1L2253.2,1045.2L2255.5,1045.3L2257.7,1045.3L2260.5,1045.4L2262.9,1045.5L2265.1,1045.6L2267.4,1045.6L2270.3,1045.7L2272.6,1045.8L2274.8,1045.9L2277.3,1045.9L2280,1046L2282.2,1046.1L2284.5,1046.1L2287.4,1046.2L2289.7,1046.3L2291.9,1046.3L2294.2,1046.4L2297.1,1046.5L2299.3,1046.6L2301.5,1046.6L2304.4,1046.7L2306.8,1046.8L2309,1046.8L2311.2,1046.9L2314.2,1047L2316.4,1047L2318.6,1047.1L2321.5,1047.2L2323.9,1047.2L2326.1,1047.3L2328.4,1047.3L2331.3,1047.4L2333.5,1047.5L2335.7,1047.5L2338.7,1047.6L2340.9,1047.7L2343.2,1047.7L2345.7,1047.8L2348.4,1047.9L2350.6,1047.9L2352.8,1048L2355.8,1048.1L2358,1048.1L2360.3,1048.2L2363.2,1048.3L2365.5,1048.3L2367.7,1048.4L2370.3,1048.4L2372.9,1048.5L2375.1,1048.5L2377.4,1048.6L2380.3,1048.7L2382.6,1048.7L2384.8,1048.8L2387.8,1048.9L2390,1048.9L2392.2,1049L2395.1,1049L2397.4,1049.1L2399.7,1049.1L2402.2,1049.2L2404.9,1049.3L2407.1,1049.3L2409.4,1049.4L2412.3,1049.4L2414.5,1049.5L2416.8,1049.5L2419.7,1049.6L2422,1049.7L2424.2,1049.7L2427.2,1049.8L2429.4,1049.8L2431.6,1049.9L2434.6,1049.9L2436.8,1050L2439.1,1050L2442,1050.1L2444.3,1050.2L2446.5,1050.2L2449.3,1050.3L2451.7,1050.3L2453.9,1050.4L2456.6,1050.4L2459.1,1050.5L2461.4,1050.5L2463.9,1050.6L2466.6,1050.6L2468.8,1050.7L2471.3,1050.7L2474,1050.8L2476.2,1050.8L2478.7,1050.9L2481.4,1051L2483.7,1051L2486.2,1051.1L2488.9,1051.1L2491.1,1051.2L2493.6,1051.2L2496.3,1051.3L2498.5,1051.3L2501.1,1051.4L2503.7,1051.4L2506,1051.4L2508.6,1051.5L2511.2,1051.5L2513.4,1051.6L2516.1,1051.6L2518.6,1051.7L2520.8,1051.7L2523.7,1051.8L2526,1051.8L2528.3,1051.9L2531.2,1051.9" fill="none" stroke="#00FF00" stroke-width="6.2" stroke-linejoin="round"/>
<path transform="scale(0.71,1)" d="M340.3,175L340.3,175.3L340.4,176.6L340.5,177.8L340.6,179.1L340.7,180.3L340.8,181.6L340.9,182M342.2,196L342.2,196L342.3,197.3L342.4,198.5L342.5,199.8L342.7,201L342.8,202.2L342.9,202.9M344.3,217L344.3,217L344.5,218.3L344.6,219.2L344.7,220.5L344.8,221.7L345,223L345.1,223.9M346.7,237.5L346.7,237.7L346.8,238.9L347,240.2L347.1,241.1L347.2,242.4L347.4,243.6L347.5,244.5M349.3,258.3L349.3,258.3L349.5,259.6L349.6,260.5L349.8,261.8L349.9,263L350.1,264.3L350.3,265.3M352.3,279.2L352.3,279.3L352.5,280.5L352.7,281.8L352.8,282.9L353,284L353.2,285.2L353.3,286.1M355.6,300L355.6,300.2L355.9,301.5L356.1,302.7L356.2,303.7L356.4,304.9L356.7,306.2L356.8,306.9M359.3,320.9L359.4,321.1L359.6,322.1L359.8,323.3L360,324.6L360.3,325.8L360.5,326.8L360.7,327.8M363.5,341.8L363.6,342.1L363.8,343L364.1,344.3L364.3,345.5L364.6,346.6L364.8,347.7L365,348.6M368.2,362.6L368.2,362.7L368.5,363.9L368.8,364.9L369,366.1L369.3,367.3L369.6,368.4L369.8,369.4M373.4,383.3L373.5,383.6L373.8,384.7L374.1,385.8L374.4,387L374.7,387.9L375,389.2L375.2,390.1M379.2,404L379.3,404.2L379.6,405.4L379.9,406.3L380.3,407.6L380.6,408.5L381,409.8L381.2,410.7M385.6,424.4L385.6,424.4L386.1,425.7L386.4,426.6L386.8,427.8L387.2,429L387.5,430L387.9,431M392.7,444.5L392.8,444.7L393.1,445.6L393.6,446.9L393.9,447.8L394.4,449L394.8,450L395.2,451.1M400.5,464.3L400.6,464.6L401,465.5L401.4,466.6L401.9,467.7L402.3,468.7L402.8,469.9L403.2,470.8M408.9,483.7L409,483.8L409.4,484.8L409.9,485.8L410.4,487L410.9,487.9L411.5,489.2L411.9,490M418,502.6L418.2,502.8L418.7,503.8L419.1,504.7L419.8,506L420.3,506.9L420.8,507.8L421.3,508.8M427.9,521L428,521.2L428.5,522.1L429.1,523.1L429.8,524.3L430.3,525.2L430.9,526.2L431.3,527M438.4,538.7L438.5,538.9L439.1,539.9L439.9,541.1L440.4,542L441,542.9L441.6,543.9L442.1,544.6M449.5,555.8L449.6,556L450.3,556.9L450.9,557.8L451.7,558.9L452.4,560L453,560.9L453.4,561.5M461.2,572.1L461.4,572.4L462,573.3L462.7,574.2L463.4,575.1L464.2,576.2L465.1,577.3L465.4,577.7M473.4,587.8L473.4,587.8L474.2,588.7L474.9,589.7L475.7,590.6L476.5,591.5L477.3,592.5L477.8,593.2M486.2,602.8L486.3,602.9L487.1,603.9L487.9,604.8L488.8,605.7L489.6,606.6L490.5,607.6L490.8,608M499.4,617.1L499.4,617.1L500.2,618L501.1,618.9L501.9,619.7L502.8,620.6L503.6,621.4L504.2,622.1M513,630.8L513.2,630.9L514.2,631.9L515.1,632.8L516.1,633.7L517,634.5L517.8,635.3L518.1,635.5M527.1,643.8L527.1,643.8L528.1,644.7L529.2,645.7L530.2,646.6L531.2,647.5L532.1,648.2L532.3,648.4M541.4,656.2L541.7,656.4L542.8,657.3L543.8,658.1L544.6,658.8L545.7,659.7L546.8,660.6M556.1,668L556.4,668.2L557.2,668.9L558.4,669.8L559.6,670.7L560.6,671.4L561.6,672.2L561.6,672.2M571.1,679.3L571.4,679.5L572.3,680.1L573.5,681L574.8,681.9L575.6,682.6L576.7,683.3M586.3,690L586.5,690.1L587.4,690.7L588.7,691.7L589.9,692.4L591,693.2L592,693.9M601.7,700.2L602,700.4L603.3,701.2L604.3,701.9L605.8,702.8L606.7,703.4L607.6,704M617.4,710L617.4,710.1L618.4,710.7L619.9,711.6L620.9,712.2L622.4,713.1L623.3,713.6M633.2,719.4L633.4,719.5L634.8,720.3L635.9,720.9L637.4,721.8L638.4,722.4L639.2,722.8M649.2,728.3L649.2,728.3L650.3,728.9L651.8,729.8L653.1,730.4L654.4,731.1L655.3,731.6M665.4,736.9L665.6,737L666.9,737.7L668.5,738.5L669.6,739.1L671.1,739.8L671.5,740M681.7,745.1L682,745.3L683.3,745.9L684.5,746.5L686.2,747.3L687.6,748L687.9,748.1M698.1,753L698.2,753L699.6,753.6L701.3,754.4L702.6,755.1L703.9,755.6L704.4,755.9M714.8,760.6L715,760.6L716.3,761.3L718,762L719.6,762.7L720.9,763.3L721.1,763.3M731.5,767.8L731.8,768L733.2,768.5L734.8,769.2L736.4,769.9L737.9,770.5M748.4,774.9L748.7,775L750.1,775.5L751.6,776.1L753.2,776.8L754.8,777.4M765.4,781.6L765.5,781.6L767,782.2L768.5,782.8L770,783.4L771.6,784L771.9,784.1M782.6,788.1L783,788.3L784.5,788.9L786.1,789.4L787.7,790L789.1,790.5M799.8,794.4L800.1,794.5L801.8,795.1L803.4,795.7L805.1,796.3L806.3,796.7M817.2,800.5L817.5,800.6L819.2,801.2L820.9,801.8L822.6,802.3L823.7,802.7M834.7,806.4L835.3,806.6L836.9,807.1L838.6,807.7L840.3,808.2L841.2,808.5M852.2,812L852.9,812.2L854.5,812.7L856.2,813.3L857.9,813.8L858.8,814.1M869.9,817.5L870.2,817.6L872,818.1L873.8,818.7L875.5,819.2L876.5,819.5M887.7,822.8L888,822.9L889.7,823.4L891.4,823.9L893.1,824.4L894.3,824.7M905.6,828L905.6,828L907.4,828.5L909.3,829L911.3,829.6L912.3,829.8M923.6,832.9L924.1,833.1L925.7,833.5L927.4,834L929.4,834.5L930.3,834.7M941.7,837.8L941.8,837.8L943.9,838.4L945.8,838.9L947.5,839.3L948.4,839.5M959.9,842.5L960.1,842.5L962,843L964.1,843.5L965.9,844L966.6,844.2M978.2,847L978.4,847.1L980.2,847.5L981.8,847.9L983.9,848.4L984.9,848.7M996.6,851.5L996.9,851.5L998.6,851.9L1000.8,852.4L1002.8,852.9L1003.4,853M1015.2,855.8L1015.3,855.8L1017,856.2L1019.4,856.7L1021.2,857.1L1021.9,857.3M1033.8,859.9L1034.6,860.1L1036.3,860.5L1038.4,861L1040.5,861.4L1040.6,861.4M1052.6,864L1053,864.1L1054.7,864.5L1056.8,864.9L1058.9,865.4L1059.3,865.4M1071.4,868L1071.5,868L1073.1,868.3L1075.6,868.8L1077.3,869.2L1078.2,869.4M1090.4,871.8L1090.7,871.9L1092.4,872.2L1094.9,872.7L1096.6,873.1L1097.1,873.2M1109.4,875.6L1110,875.7L1112,876.1L1114.2,876.5L1116,876.8L1116.2,876.9M1128.5,879.2L1129.3,879.3L1130.9,879.7L1133.4,880.1L1135.1,880.4L1135.3,880.5M1147.8,882.8L1148.5,882.9L1150.2,883.2L1152.7,883.6L1154.4,883.9L1154.6,884M1167.1,886.2L1167.8,886.3L1169.9,886.7L1172,887.1L1173.9,887.4M1186.5,889.6L1187,889.7L1188.7,889.9L1191.2,890.4L1193.1,890.7L1193.3,890.7M1205.9,892.8L1206.3,892.9L1208,893.2L1210.5,893.6L1212.4,893.9L1212.7,893.9M1225.5,896L1225.6,896L1227.5,896.3L1229.8,896.7L1232.1,897.1L1232.3,897.1M1245.1,899.1L1245.7,899.2L1247.6,899.5L1249.9,899.8L1251.9,900.2M1264.7,902.1L1264.9,902.1L1266.6,902.4L1269.1,902.8L1271.3,903.1L1271.6,903.1M1284.5,905.1L1285,905.1L1287.4,905.5L1289.2,905.7L1291.3,906M1304.3,907.9L1304.3,907.9L1306.8,908.3L1308.8,908.5L1311,908.9L1311.1,908.9M1324.1,910.7L1324.4,910.7L1326.9,911.1L1329,911.4L1331,911.6M1344,913.4L1344.4,913.4L1346.2,913.7L1348.7,914L1350.9,914.3M1364,916L1364.6,916.1L1367,916.4L1368.8,916.6L1370.8,916.9M1384,918.6L1384.7,918.7L1386.6,918.9L1388.9,919.2L1390.8,919.4M1404.1,921.1L1404.7,921.2L1406.5,921.4L1409,921.7L1410.9,921.9M1424.2,923.5L1424.9,923.6L1426.8,923.8L1429.1,924.1L1431,924.3M1444.3,925.9L1445,925.9L1447.5,926.2L1449.4,926.5L1451.2,926.7M1464.5,928.2L1464.7,928.2L1466.8,928.4L1469.3,928.7L1471.3,928.9M1484.7,930.4L1485.2,930.5L1487.7,930.7L1490.1,931L1491.6,931.1M1505,932.6L1505.3,932.6L1507.8,932.9L1509.9,933.1L1511.8,933.3M1525.3,934.7L1525.4,934.7L1527.9,935L1530.1,935.2L1532.1,935.4M1545.6,936.8L1546.4,936.8L1548.6,937.1L1550.7,937.3L1552.5,937.5M1566,938.8L1566.5,938.8L1569,939.1L1571.5,939.3L1572.8,939.4M1586.4,940.7L1586.4,940.7L1588.6,940.9L1590.7,941.1L1593.3,941.4M1606.8,942.6L1607.5,942.7L1610,942.9L1612.3,943.1L1613.7,943.3M1627.3,944.5L1627.6,944.5L1629.8,944.7L1632,944.9L1634.2,945.1M1647.8,946.3L1648.5,946.4L1651.1,946.6L1653.6,946.8L1654.7,946.9M1668.3,948L1668.6,948.1L1671.2,948.3L1673.7,948.5L1675.2,948.6M1688.9,949.7L1689.6,949.8L1692.1,950L1694.6,950.2L1695.7,950.3M1709.4,951.4L1709.7,951.4L1712.2,951.6L1714.7,951.8L1716.3,951.9M1730,953L1730.6,953.1L1733,953.2L1735.3,953.4L1736.9,953.5M1750.7,954.6L1750.7,954.6L1753.2,954.8L1755.7,955L1757.6,955.1M1771.3,956.1L1771.6,956.1L1774,956.3L1776.5,956.5L1778.2,956.6M1792,957.6L1792.6,957.6L1795.1,957.8L1797.6,958L1798.9,958.1M1812.7,959L1812.7,959L1815.2,959.2L1817.7,959.4L1819.6,959.5M1833.4,960.4L1833.6,960.4L1836.2,960.6L1838.7,960.8L1840.3,960.9M1854.1,961.8L1854.6,961.8L1857.1,962L1859.6,962.1L1861,962.2M1874.8,963.1L1875.4,963.1L1878,963.3L1880.5,963.5L1881.7,963.5M1895.6,964.4L1895.6,964.4L1898.1,964.5L1900.6,964.7L1902.5,964.8M1916.3,965.6L1916.6,965.6L1919.1,965.8L1921.6,965.9L1923.2,966M1937.1,966.8L1937.5,966.9L1940,967L1942.5,967.1L1944,967.2M1957.9,968L1958.4,968L1961,968.2L1963.5,968.3L1964.8,968.4M1978.7,969.1L1979.4,969.2L1981.9,969.3L1984.4,969.4L1985.6,969.5M1999.5,970.2L2000.3,970.3L2002.8,970.4L2005.3,970.5L2006.4,970.6M2020.3,971.3L2020.4,971.3L2022.9,971.4L2025.4,971.6L2027.2,971.7M2041.2,972.3L2041.4,972.4L2043.9,972.5L2046.7,972.6L2048,972.7M2062,973.3L2062.3,973.4L2064.8,973.5L2067.3,973.6L2068.9,973.7M2082.8,974.3L2083.2,974.3L2085.7,974.5L2088.3,974.6L2089.7,974.6M2103.6,975.3L2104.2,975.3L2106.7,975.4L2109.2,975.5L2110.5,975.6M2124.5,976.2L2125.1,976.2L2127.6,976.3L2130.2,976.4L2131.4,976.5M2145.3,977L2145.5,977.1L2148.6,977.2L2151.1,977.3L2152.2,977.3M2166.2,977.9L2166.2,977.9L2168.7,978L2171.2,978.1L2173,978.2M2187,978.7L2187.1,978.7L2189.6,978.8L2192.3,978.9L2193.9,979M2207.8,979.5L2208,979.5L2210.5,979.6L2213.1,979.7L2214.7,979.8M2228.7,980.3L2229,980.3L2231.5,980.4L2234,980.5L2235.6,980.5M2249.5,981L2249.9,981L2252.4,981.1L2254.9,981.2L2256.4,981.2M2270.4,981.7L2270.8,981.7L2273.4,981.8L2276.2,981.9L2277.3,981.9M2291.2,982.4L2291.8,982.4L2294.3,982.5L2296.8,982.6L2298.1,982.6M2312.1,983.1L2312.7,983.1L2315.2,983.2L2317.8,983.2L2319,983.3M2332.9,983.7L2333.1,983.7L2336.2,983.8L2338.7,983.9L2339.8,983.9M2353.8,984.3L2354.6,984.3L2357.1,984.4L2360.4,984.5L2360.7,984.5M2374.6,984.9L2374.7,984.9L2377.7,985L2380.6,985L2381.5,985.1M2395.5,985.4L2395.6,985.4L2398.6,985.5L2401.5,985.6L2402.4,985.6M2416.4,986L2416.6,986L2419.8,986.1L2422.4,986.1L2423.3,986.1M2437.2,986.5L2437.5,986.5L2440,986.6L2442.5,986.6L2444.1,986.7M2458.1,987L2458.5,987L2461,987L2463.5,987.1L2465,987.1M2479,987.4L2479.4,987.5L2481.9,987.5L2484.5,987.6L2485.9,987.6M2499.8,987.9L2500.3,987.9L2502.9,988L2506.2,988L2506.7,988M2520.7,988.3L2521.3,988.3L2523.8,988.4L2526.3,988.4L2527.6,988.5M2541.6,988.7L2542.2,988.7L2544.7,988.8L2547.4,988.8L2548.5,988.9M2562.5,989.1L2562.5,989.1L2565.7,989.2L2568.2,989.2L2569.4,989.2M2583.4,989.5L2584.1,989.5L2586.6,989.5L2589.2,989.6L2590.3,989.6M2604.2,989.8L2604.5,989.8L2607.5,989.9L2610.1,989.9L2611.1,989.9M2625.1,990.1L2626,990.2L2628.5,990.2L2631.6,990.2L2632,990.2M2646,990.4L2646.1,990.4L2648.6,990.5L2651.2,990.5L2652.9,990.5M2666.9,990.7L2667,990.7L2669.5,990.8L2672,990.8L2673.8,990.8M2687.8,991L2688,991L2690.9,991L2693.8,991.1L2694.7,991.1M2708.7,991.2L2708.9,991.2L2711.4,991.3L2714.8,991.3L2715.6,991.3M2729.6,991.5L2729.8,991.5L2732.3,991.5L2735.3,991.5L2736.5,991.5M2750.5,991.7L2750.8,991.7L2753.3,991.7L2755.8,991.7L2757.4,991.7M2771.5,991.9L2771.7,991.9L2774.2,991.9L2776.7,991.9L2778.4,991.9M2792.4,992.1L2792.6,992.1L2795.2,992.1L2797.7,992.1L2799.3,992.1M2813.3,992.2L2813.6,992.2L2816.1,992.2L2818.6,992.2L2820.2,992.3M2834.2,992.4L2834.5,992.4L2837,992.4L2839.5,992.4L2841.1,992.4" fill="none" stroke="#0000FF" stroke-width="6.9" stroke-linejoin="round"/>
<rect x="142.00" y="227.00" width="10.90" height="6.80" fill="#333333"/>
<rect x="142.00" y="549.22" width="10.90" height="6.80" fill="#333333"/>
<rect x="142.00" y="871.79" width="10.90" height="6.10" fill="#333333"/>
<rect x="228.00" y="1151.10" width="4.90" height="13.80" fill="#333333"/>
<rect x="802.00" y="1151.10" width="3.80" height="13.80" fill="#333333"/>
<rect x="1376.00" y="1151.10" width="3.80" height="13.80" fill="#333333"/>
<rect x="1950.00" y="1151.10" width="3.90" height="13.80" fill="#333333"/>
<text transform="translate(134.10,246.30) scale(0.6830,1)" font-size="44.6" fill="#4D4D4D" stroke="#4D4D4D" stroke-width="0.2" text-anchor="end">0.6</text>
<text transform="translate(134.10,568.52) scale(0.6830,1)" font-size="44.6" fill="#4D4D4D" stroke="#4D4D4D" stroke-width="0.2" text-anchor="end">0.4</text>
<text transform="translate(134.10,890.74) scale(0.6830,1)" font-size="44.6" fill="#4D4D4D" stroke="#4D4D4D" stroke-width="0.2" text-anchor="end">0.2</text>
<text transform="translate(229.60,1206.80) scale(0.7000,1)" font-size="44.6" fill="#4D4D4D" stroke="#4D4D4D" stroke-width="0.2" text-anchor="middle">0</text>
<text transform="translate(803.46,1206.80) scale(0.7000,1)" font-size="44.6" fill="#4D4D4D" stroke="#4D4D4D" stroke-width="0.2" text-anchor="middle">2</text>
<text transform="translate(1377.32,1206.80) scale(0.7000,1)" font-size="44.6" fill="#4D4D4D" stroke="#4D4D4D" stroke-width="0.2" text-anchor="middle">4</text>
<text transform="translate(1951.18,1206.80) scale(0.7000,1)" font-size="44.6" fill="#4D4D4D" stroke="#4D4D4D" stroke-width="0.2" text-anchor="middle">6</text>
<text transform="translate(1133.30,1273.90) scale(0.6970,1)" font-size="54.3" fill="#000000" stroke="#000000" stroke-width="0.35" text-anchor="middle" word-spacing="4">normalized expenditure</text>
<text transform="translate(72.40,639.40) rotate(-90) scale(1,0.7030)" font-size="54.3" fill="#000000" stroke="#000000" stroke-width="0.35" text-anchor="middle">share</text>
<text transform="translate(54.40,641.00) rotate(-90) scale(1,0.9500)" font-size="46.5" fill="#000000" stroke="#000000" stroke-width="0.35" text-anchor="middle">^</text>
<text transform="translate(151.50,82.05) scale(0.7000,1)" font-size="64.2" fill="#000000" stroke="#000000" stroke-width="0.35" text-anchor="start">(a) Food</text>
<rect x="152.10" y="1435.80" width="1961.80" height="1023.10" fill="#EBEBEB"/>
<rect x="152.10" y="1517.00" width="1961.80" height="3.80" fill="#FFFFFF"/>
<rect x="152.10" y="1801.00" width="1961.80" height="3.80" fill="#FFFFFF"/>
<rect x="152.10" y="2085.00" width="1961.80" height="3.80" fill="#FFFFFF"/>
<rect x="152.10" y="2369.00" width="1961.80" height="3.80" fill="#FFFFFF"/>
<rect x="515.73" y="1435.80" width="3.00" height="1023.10" fill="#FFFFFF"/>
<rect x="1089.59" y="1435.80" width="3.00" height="1023.10" fill="#FFFFFF"/>
<rect x="1663.45" y="1435.80" width="3.00" height="1023.10" fill="#FFFFFF"/>
<rect x="152.10" y="1657.65" width="1961.80" height="6.50" fill="#FFFFFF"/>
<rect x="152.10" y="1941.70" width="1961.80" height="6.40" fill="#FFFFFF"/>
<rect x="152.10" y="2225.75" width="1961.80" height="6.30" fill="#FFFFFF"/>
<rect x="227.90" y="1435.80" width="5.10" height="1023.10" fill="#FFFFFF"/>
<rect x="801.90" y="1435.80" width="4.00" height="1023.10" fill="#FFFFFF"/>
<rect x="1375.90" y="1435.80" width="4.00" height="1023.10" fill="#FFFFFF"/>
<rect x="1949.90" y="1435.80" width="4.10" height="1023.10" fill="#FFFFFF"/>
<path transform="scale(0.77,1)" d="M313.5,2412.8L313.6,2412.5L313.7,2411.5L313.8,2410.5L313.9,2409.5L314,2408.5L314.1,2407.5L314.2,2406.5L314.3,2405.5L314.3,2404.8L314.4,2403.8L314.5,2402.8L314.7,2401.8L314.8,2400.8L314.8,2400.6M315.7,2391.7L315.8,2391.5L315.9,2390.7L316,2389.7L316.1,2388.7L316.2,2387.7L316.3,2386.7L316.4,2385.7L316.6,2384.7L316.6,2384L316.8,2383L316.9,2381.9L317,2380.9L317.1,2379.9L317.2,2378.9L317.4,2377.9L317.5,2377.2L317.6,2376.2L317.7,2375.2L317.8,2374.2L318,2373.2L318.1,2372.2L318.2,2371.4L318.3,2370.4L318.5,2369.4L318.6,2368.4L318.7,2367.4L318.9,2366.4L319,2365.6L319.1,2364.6L319.2,2363.6L319.4,2362.6L319.5,2361.6L319.6,2360.6L319.7,2359.9L319.9,2359M321.1,2350.5L321.1,2350.3L321.3,2349.4L321.4,2348.6L321.5,2347.5L321.7,2346.5L321.8,2345.5L322,2344.5L322.1,2343.8L322.3,2342.8L322.4,2341.8L322.6,2340.8L322.7,2339.8L322.9,2339L323,2338.1M324.5,2329.3L324.5,2329.2L324.7,2328.2L324.8,2327.2L325,2326.2L325.1,2325.4L325.3,2324.4L325.5,2323.4L325.7,2322.4L325.9,2321.4L326,2320.6L326.2,2319.6L326.4,2318.6L326.5,2317.6L326.7,2316.9L326.9,2315.9L327.1,2314.9L327.3,2313.9L327.4,2312.9L327.6,2312.1L327.8,2311.1L328,2310.1L328.2,2309.1L328.3,2308.3L328.5,2307.3L328.7,2306.3L328.9,2305.3L329.1,2304.5L329.3,2303.5L329.5,2302.5L329.7,2301.5L329.8,2300.8L330.1,2299.8L330.3,2298.7L330.5,2297.7L330.6,2297L330.6,2297M332.6,2288.2L332.6,2288.2L332.8,2287.2L333,2286.4L333.2,2285.4L333.4,2284.4L333.6,2283.6L333.8,2282.6L334.1,2281.6L334.3,2280.6L334.5,2279.9L334.7,2278.8L335,2277.8L335.2,2277.1L335.4,2276.1L335.4,2276M337.6,2267.4L337.6,2267.3L337.9,2266.2L338.2,2265.2L338.4,2264.5L338.6,2263.5L338.9,2262.5L339.1,2261.7L339.4,2260.7L339.6,2259.7L339.8,2258.9L340.1,2257.9L340.4,2256.9L340.6,2256.2L340.9,2255.1L341.2,2254.1L341.4,2253.4L341.7,2252.4L342,2251.4L342.2,2250.6L342.5,2249.6L342.8,2248.6L343,2247.8L343.3,2246.8L343.6,2245.8L343.8,2245.1L344.1,2244.1L344.4,2243.1L344.7,2242.3L345,2241.3L345.2,2240.5L345.5,2239.5L345.8,2238.5L346.1,2237.7L346.4,2236.7L346.7,2235.9M349.4,2227.5L349.5,2227.4L349.8,2226.4L350.1,2225.6L350.4,2224.6L350.7,2223.9L351,2222.9L351.4,2221.9L351.6,2221.1L352,2220.1L352.3,2219.3L352.6,2218.3L352.9,2217.5L353.3,2216.6L353.6,2215.8M356.7,2207.6L356.7,2207.5L357,2206.7L357.4,2205.7L357.7,2205L358.1,2204L358.4,2203.2L358.8,2202.2L359.1,2201.4L359.5,2200.4L359.9,2199.5L360.2,2198.7L360.6,2197.7L360.9,2196.9L361.4,2195.9L361.7,2195.2L362.1,2194.2L362.4,2193.4L362.8,2192.4L363.2,2191.6L363.6,2190.6L363.9,2189.9L364.4,2188.9L364.7,2188.1L365.2,2187.1L365.5,2186.4L365.9,2185.4L366.3,2184.6L366.7,2183.6L367.1,2182.8L367.6,2181.8L367.9,2181.1L368.4,2180.1L368.7,2179.3L369.1,2178.4L369.5,2177.7M373.3,2169.9L373.4,2169.8L373.8,2168.9L374.2,2168L374.6,2167.3L375.1,2166.3L375.5,2165.5L376,2164.5L376.4,2163.8L376.9,2163L377.4,2162L377.8,2161.3L378.3,2160.3L378.7,2159.5L379,2159M383,2151.8L383,2151.8L383.4,2151L383.9,2150.3L384.4,2149.3L384.9,2148.5L385.4,2147.7L385.9,2146.8L386.3,2146L386.9,2145L387.4,2144.3L387.8,2143.5L388.4,2142.5L388.9,2141.8L389.3,2141L390,2140L390.4,2139.3L390.9,2138.5L391.5,2137.5L392,2136.8L392.5,2136L393.1,2135.1L393.6,2134.3L394.1,2133.6L394.6,2132.7L395.2,2131.8L395.7,2131.1L396.2,2130.3L396.8,2129.3L397.3,2128.6L397.8,2127.8L398.5,2126.9L399,2126.1L399.5,2125.4L400,2124.7M404.7,2118.1L404.7,2118.1L405.3,2117.2L405.8,2116.5L406.4,2115.7L407,2114.9L407.7,2114L408.2,2113.3L408.8,2112.5L409.3,2111.8L410.1,2110.8L410.8,2109.8L411.4,2109.1L412,2108.4M416.4,2102.7L416.5,2102.7L417.1,2101.9L417.8,2101L418.5,2100.2L419.1,2099.5L419.7,2098.8L420.3,2098L420.9,2097.3L421.7,2096.4L422.4,2095.6L423,2094.9L423.6,2094.1L424.3,2093.4L424.9,2092.7L425.6,2091.9L426.3,2091.1L427.1,2090.2L427.7,2089.5L428.4,2088.8L429,2088L429.7,2087.3L430.4,2086.6L431,2085.9L431.7,2085.1L432.5,2084.3L433.3,2083.5L434,2082.7L434.7,2082L435.3,2081.3L436,2080.5L436.7,2079.8L437.4,2079.1M442.4,2074.1L442.5,2074L443.2,2073.3L443.9,2072.6L444.7,2071.9L445.4,2071.2L446.1,2070.4L446.9,2069.7L447.7,2069L448.4,2068.3L449.2,2067.6L449.9,2066.9L450.7,2066.1L451.1,2065.8M455.6,2061.7L455.6,2061.6L456.4,2061L457.2,2060.3L458,2059.6L458.7,2058.9L459.5,2058.2L460.3,2057.6L461.1,2056.9L461.9,2056.2L462.7,2055.5L463.6,2054.8L464.4,2054.1L465.2,2053.4L466.1,2052.7L466.9,2052L467.8,2051.3L468.7,2050.5L469.5,2049.8L470.3,2049.2L471.1,2048.6L471.9,2048L472.7,2047.3L473.6,2046.6L474.5,2045.9L475.4,2045.2L476.3,2044.5L477.2,2043.8L478,2043.1L478.8,2042.5L479.6,2042M484.4,2038.4L484.6,2038.2L485.5,2037.6L486.5,2036.9L487.3,2036.3L488.1,2035.7L489,2035L490,2034.3L491,2033.7L492,2033L492.7,2032.5L493.6,2031.8L494.1,2031.5M498.4,2028.6L498.6,2028.4L499.6,2027.8L500.4,2027.2L501.3,2026.6L502.4,2026L503.4,2025.3L504.3,2024.7L505.1,2024.2L506.2,2023.5L507.3,2022.8L508.2,2022.2L509,2021.7L510.1,2021L511.2,2020.4L512,2019.8L513,2019.2L514.1,2018.6L515.1,2017.9L515.9,2017.5L517,2016.8L518.1,2016.1L519,2015.6L520,2015L521.1,2014.4L522.1,2013.8L523,2013.3L524.1,2012.6L524.5,2012.4M529.1,2009.8L529.2,2009.8L530.3,2009.1L531.3,2008.6L532.3,2008.1L533.5,2007.4L534.4,2006.9L535.5,2006.3L536.7,2005.7L537.5,2005.2L538.7,2004.6L539.3,2004.3M543.6,2002.1L543.6,2002.1L544.5,2001.6L545.7,2001L546.8,2000.4L547.8,1999.9L549.1,1999.3L549.9,1998.9L551.2,1998.2L552.2,1997.8L553.4,1997.2L554.5,1996.6L555.5,1996.2L556.8,1995.5L557.7,1995.1L559,1994.5L559.9,1994.1L561.2,1993.4L562.2,1993L563.5,1992.4L564.6,1991.9L565.7,1991.4L566.9,1990.9L568,1990.4L569.2,1989.8L570.3,1989.3L571.1,1989M575.5,1987.1L575.8,1986.9L576.9,1986.4L578.2,1985.9L579.2,1985.5L580.6,1984.9L581.5,1984.5L583,1983.9L583.9,1983.5L585.4,1982.9L586.2,1982.6M590.6,1980.8L590.8,1980.7L591.8,1980.3L593.1,1979.8L594.3,1979.3L595.4,1978.9L596.8,1978.4L597.8,1978L599.3,1977.4L600.3,1977L601.6,1976.5L602.9,1976L603.9,1975.7L605.5,1975.1L606.5,1974.7L607.8,1974.2L609.1,1973.7L610.2,1973.4L611.7,1972.8L612.8,1972.4L614,1972L615.5,1971.5L616.6,1971.1L617.8,1970.7L619,1970.3M623.4,1968.8L623.7,1968.7L624.8,1968.3L626.3,1967.8L627.5,1967.4L628.7,1967L630.2,1966.5L631.4,1966.1L632.6,1965.8L634.1,1965.3L634.4,1965.2M639.2,1963.7L639.4,1963.6L640.6,1963.2L641.8,1962.9L643.3,1962.4L644.7,1962L645.8,1961.6L647.2,1961.2L648.7,1960.8L650,1960.4L651.2,1960.1L652.6,1959.6L654.1,1959.2L655.4,1958.8L656.6,1958.5L658,1958.1L659.6,1957.7L660.8,1957.3L662.1,1957L663.4,1956.6L665,1956.2L666.4,1955.8L667.7,1955.4L668.2,1955.3M673,1954L673.3,1953.9L674.6,1953.6L675.9,1953.3L677.3,1952.9L678.9,1952.5L680.4,1952.1L681.7,1951.8L683,1951.5L684.1,1951.2M689.6,1949.9L689.7,1949.9L691.2,1949.5L692.8,1949.1L694.2,1948.8L695.5,1948.5L696.9,1948.2L698.2,1947.8L699.7,1947.5L701.3,1947.2L702.8,1946.8L704.4,1946.5L705.7,1946.2L707.1,1945.9L708.5,1945.6L709.9,1945.3L711.3,1944.9L712.8,1944.6L714.4,1944.3L715.9,1944L717.5,1943.6L719,1943.3M724.5,1942.2L724.8,1942.2L726.2,1941.9L727.7,1941.6L729.1,1941.3L730.6,1941L732.2,1940.7L733.7,1940.4L735.2,1940.1L735.7,1940M742.1,1938.9L742.2,1938.8L743.7,1938.6L745.3,1938.3L746.8,1938L748.4,1937.7L749.9,1937.5L751.5,1937.2L753,1936.9L754.6,1936.7L756.1,1936.4L757.6,1936.2L759.2,1935.9L760.7,1935.6L762.3,1935.4L763.8,1935.1L765.4,1934.9L766.9,1934.6L768.5,1934.4L770,1934.2L771.5,1933.9L771.7,1933.9M778.1,1932.9L778.4,1932.9L780,1932.6L781.6,1932.4L783.1,1932.2L784.7,1932L786.2,1931.8L787.8,1931.5L789.3,1931.3L789.4,1931.3M796.2,1930.4L796.3,1930.4L797.8,1930.2L799.4,1930L800.9,1929.8L802.6,1929.6L804.3,1929.3L806,1929.1L807.7,1928.9L809.4,1928.7L810.9,1928.5L812.5,1928.3L814,1928.1L815.6,1928L817.3,1927.8L819,1927.6L820.8,1927.4L822.5,1927.2L824.1,1927L825.6,1926.8L826,1926.8M832.8,1926L833.3,1926L834.9,1925.8L836.4,1925.7L838,1925.5L839.7,1925.3L841.5,1925.2L843.4,1925L844.3,1924.9M851.2,1924.2L851.8,1924.2L853.4,1924L855,1923.9L856.5,1923.8L858.4,1923.6L860.3,1923.4L861.9,1923.3L863.5,1923.2L865,1923L867,1922.9L868.9,1922.7L870.4,1922.6L872,1922.5L873.7,1922.3L875.7,1922.2L877.4,1922.1L878.9,1921.9L880.6,1921.8L881.1,1921.8M888.1,1921.3L888.2,1921.3L889.7,1921.2L891.5,1921.1L893.5,1920.9L895.1,1920.8L896.7,1920.7L898.6,1920.6L899.5,1920.5M907,1920.1L907.5,1920.1L909,1920L910.9,1919.9L912.9,1919.8L914.4,1919.7L916.1,1919.6L918.2,1919.5L919.8,1919.4L921.4,1919.3L923.5,1919.2L925.2,1919.2L926.8,1919.1L928.8,1919L930.7,1918.9L932.2,1918.8L934.2,1918.8L936.1,1918.7L937,1918.6M944.5,1918.4L944.6,1918.4L946.1,1918.3L948.3,1918.2L950,1918.2L951.6,1918.1L953.8,1918L955.4,1918L955.9,1918M963.8,1917.8L963.9,1917.8L965.4,1917.7L967.3,1917.7L969.3,1917.6L970.8,1917.6L973,1917.5L974.7,1917.5L976.4,1917.5L978.5,1917.4L980.1,1917.4L982.2,1917.4L983.9,1917.3L985.7,1917.3L987.8,1917.3L989.4,1917.2L991.5,1917.2L993.2,1917.2L993.8,1917.2M1001.6,1917.1L1001.7,1917.1L1003.4,1917.1L1005.6,1917.1L1007.1,1917.1L1009.4,1917.1L1011,1917.1L1013,1917L1013.1,1917M1021,1917L1021.5,1917L1023.3,1917L1025.2,1917L1027.2,1917L1028.9,1917.1L1031.1,1917.1L1032.6,1917.1L1034.9,1917.1L1036.5,1917.1L1038.8,1917.1L1040.3,1917.1L1042.6,1917.1L1044.2,1917.2L1046.4,1917.2L1048.1,1917.2L1050.2,1917.2L1051,1917.2M1059,1917.4L1059.2,1917.4L1061.2,1917.4L1063.1,1917.4L1065,1917.5L1067,1917.5L1068.9,1917.5L1070.4,1917.6M1078.2,1917.7L1078.2,1917.7L1080.1,1917.8L1082,1917.8L1084.1,1917.9L1085.9,1917.9L1088.1,1918L1089.8,1918L1092.1,1918.1L1093.6,1918.2L1095.9,1918.2L1097.5,1918.3L1099.8,1918.4L1101.6,1918.4L1103.7,1918.5L1105.7,1918.5L1107.5,1918.6L1108.2,1918.6M1115.9,1918.9L1116,1918.9L1118.1,1919L1119.9,1919.1L1122.2,1919.2L1123.7,1919.2L1126.1,1919.3L1127.3,1919.4M1134.9,1919.7L1135.3,1919.7L1137.7,1919.8L1139.2,1919.9L1141.5,1920L1143.4,1920.1L1145.4,1920.2L1147.7,1920.3L1149.2,1920.4L1151.6,1920.5L1153.5,1920.6L1155.4,1920.7L1157.7,1920.8L1159.3,1920.9L1161.6,1921L1163.7,1921.1L1164.9,1921.2M1172.4,1921.6L1172.5,1921.6L1174.7,1921.8L1177,1921.9L1178.6,1922L1180.9,1922.1L1183,1922.2L1183.9,1922.3M1191.3,1922.8L1191.7,1922.8L1193.5,1922.9L1195.6,1923L1197.9,1923.2L1199.6,1923.3L1201.8,1923.4L1204.1,1923.6L1205.7,1923.7L1207.9,1923.9L1210.3,1924L1211.9,1924.1L1214.1,1924.3L1216.4,1924.4L1218.1,1924.6L1220.3,1924.7L1221.2,1924.8M1228.7,1925.3L1228.8,1925.3L1230.7,1925.5L1232.7,1925.6L1235,1925.8L1237,1926L1238.8,1926.1L1240.1,1926.2M1247.5,1926.8L1248.1,1926.8L1249.8,1927L1252,1927.1L1254.3,1927.3L1256.3,1927.5L1258.1,1927.7L1260.5,1927.8L1262.8,1928L1264.4,1928.2L1266.6,1928.4L1269,1928.6L1271,1928.7L1272.8,1928.9L1275.1,1929.1L1277.4,1929.3M1284.7,1930L1285.2,1930L1287.5,1930.2L1289.3,1930.4L1291.4,1930.6L1293.7,1930.8L1296,1931L1296.2,1931M1303.5,1931.7L1303.7,1931.7L1306,1931.9L1307.9,1932.1L1309.9,1932.3L1312.2,1932.5L1314.5,1932.8L1316.5,1933L1318.4,1933.1L1320.7,1933.4L1323,1933.6L1325.2,1933.8L1326.9,1934L1329.2,1934.2L1331.5,1934.5L1333.4,1934.7M1340.8,1935.4L1340.8,1935.4L1342.7,1935.6L1344.6,1935.8L1347,1936.1L1349.3,1936.3L1351.6,1936.6L1352.2,1936.6M1359.6,1937.4L1360.1,1937.5L1362.3,1937.7L1364.2,1937.9L1366.3,1938.2L1368.6,1938.4L1370.9,1938.7L1373.2,1938.9L1375,1939.1L1377.1,1939.4L1379.4,1939.6L1381.7,1939.9L1384,1940.2L1386,1940.4L1387.9,1940.6L1389.4,1940.8M1396.8,1941.7L1397.2,1941.7L1399,1941.9L1401,1942.2L1403.3,1942.4L1405.7,1942.7L1408,1943L1408.2,1943M1415.7,1943.9L1415.9,1943.9L1418,1944.2L1420.3,1944.5L1422.7,1944.8L1425,1945.1L1427.3,1945.3L1429.3,1945.6L1431.2,1945.8L1433.5,1946.1L1435.8,1946.4L1438.1,1946.7L1440.4,1947L1442.7,1947.3L1444.7,1947.5L1445.5,1947.7M1453,1948.6L1453.6,1948.7L1455.9,1949L1458.2,1949.3L1460.3,1949.6L1462.3,1949.8L1464.4,1950.1M1471.9,1951.1L1472.1,1951.1L1474.2,1951.4L1476.2,1951.7L1478.3,1952L1480.6,1952.3L1482.9,1952.6L1485.2,1952.9L1487.5,1953.2L1489.9,1953.5L1492.2,1953.9L1494.3,1954.2L1496.3,1954.4L1498.3,1954.7L1500.7,1955L1501.7,1955.2M1509.2,1956.2L1509.9,1956.4L1512.3,1956.7L1514.6,1957L1516.8,1957.3L1518.8,1957.6L1520.6,1957.9M1528.1,1959L1528.5,1959L1530.8,1959.3L1533.1,1959.7L1535.4,1960L1537.6,1960.3L1539.7,1960.6L1541.8,1961L1543.9,1961.3L1546.2,1961.6L1548.6,1962L1550.9,1962.3L1553.2,1962.6L1555.5,1963L1557.8,1963.3L1557.9,1963.4M1565.5,1964.5L1565.5,1964.5L1567.9,1964.9L1570.2,1965.2L1572.5,1965.6L1574.8,1965.9L1576.8,1966.2M1584.4,1967.4L1584.7,1967.5L1586.8,1967.8L1589,1968.1L1591.2,1968.5L1593.4,1968.8L1595.7,1969.2L1598,1969.5L1600.3,1969.9L1602.6,1970.3L1604.9,1970.6L1607.3,1971L1609.6,1971.4L1611.9,1971.8L1614.1,1972.1M1621.8,1973.3L1621.9,1973.4L1624.2,1973.7L1626.6,1974.1L1628.9,1974.5L1631.2,1974.9L1633.1,1975.2M1640.8,1976.4L1641.2,1976.5L1643.6,1976.9L1645.9,1977.3L1648.2,1977.7L1650.5,1978.1L1652.8,1978.5L1655.1,1978.8L1657.5,1979.2L1659.8,1979.6L1662.1,1980L1664.4,1980.4L1666.7,1980.8L1669,1981.2L1670.4,1981.4M1678.1,1982.7L1678.3,1982.8L1680.6,1983.2L1682.9,1983.6L1685.3,1984L1687.6,1984.4L1689.4,1984.7M1697.1,1986L1697.6,1986.1L1699.9,1986.5L1702.3,1986.9L1704.6,1987.3L1706.9,1987.7L1709.2,1988.1L1711.5,1988.5L1713.8,1989L1716.2,1989.4L1718.5,1989.8L1720.8,1990.2L1723.1,1990.6L1725.4,1991L1726.8,1991.3M1734.5,1992.6L1734.7,1992.7L1737,1993.1L1739.3,1993.5L1741.7,1993.9L1744.2,1994.4L1745.8,1994.7M1753.5,1996.1L1754,1996.2L1756.3,1996.6L1758.6,1997L1761,1997.5L1763.3,1997.9L1765.6,1998.3L1767.9,1998.7L1770.2,1999.2L1772.5,1999.6L1774.9,2000L1777.2,2000.5L1779.5,2000.9L1781.8,2001.3L1783.1,2001.6M1790.9,2003L1791.1,2003.1L1793.4,2003.5L1795.7,2003.9L1798,2004.4L1800.3,2004.8L1802.2,2005.2M1810,2006.7L1810.4,2006.7L1812.7,2007.2L1815,2007.6L1817.3,2008.1L1819.7,2008.5L1822.1,2009L1824.7,2009.5L1827.3,2010L1829.7,2010.5L1832,2010.9L1834.3,2011.4L1836.6,2011.8L1839,2012.3L1839.5,2012.4M1847.3,2013.9L1847.5,2013.9L1849.8,2014.4L1852.1,2014.8L1854.4,2015.3L1856.7,2015.7L1858.6,2016.1M1866.4,2017.7L1866.7,2017.7L1869.1,2018.2L1871.4,2018.7L1873.7,2019.1L1876,2019.6L1878.4,2020.1L1880.7,2020.5L1883,2021L1885.4,2021.5L1888.1,2022L1890.7,2022.5L1893,2023L1895.3,2023.5L1895.9,2023.6M1903.8,2025.2L1903.8,2025.2L1906.2,2025.7L1908.5,2026.1L1910.8,2026.6L1913.1,2027.1L1915,2027.5M1922.9,2029.1L1923.2,2029.2L1925.5,2029.6L1927.8,2030.1L1930.1,2030.6L1932.4,2031.1L1934.7,2031.6L1937.3,2032.1L1940.1,2032.7L1942.5,2033.2L1944.8,2033.7L1947.1,2034.1L1949.4,2034.6L1951.7,2035.1L1952.4,2035.2M1960.2,2036.9L1961,2037.1L1963.3,2037.5L1965.6,2038L1968.1,2038.6L1971,2039.2L1971.5,2039.3M1979.4,2041L1979.5,2041L1981.9,2041.5L1984.2,2042L1986.5,2042.5L1988.8,2043L1991.1,2043.5L1993.8,2044L1996.5,2044.6L1998.8,2045.1L2001.2,2045.6L2003.5,2046.1L2005.8,2046.6L2008.2,2047.2L2008.8,2047.3M2016.7,2049L2016.9,2049.1L2019.7,2049.7L2022,2050.2L2024.3,2050.7L2026.6,2051.2L2027.9,2051.5M2035.9,2053.2L2035.9,2053.2L2038.2,2053.7L2040.6,2054.2L2043.3,2054.8L2046,2055.4L2048.3,2055.9L2050.6,2056.4L2052.9,2057L2055.2,2057.5L2058.2,2058.1L2060.6,2058.7L2063,2059.2L2065.3,2059.7L2065.3,2059.7M2073.2,2061.5L2073.8,2061.6L2076.2,2062.2L2079.2,2062.8L2081.5,2063.4L2083.8,2063.9L2084.4,2064M2092.4,2065.8L2093.1,2066L2095.4,2066.5L2097.7,2067L2100.4,2067.6L2103.1,2068.2L2105.4,2068.8L2107.7,2069.3L2110.1,2069.8L2112.7,2070.4L2115.5,2071.1L2117.8,2071.6L2120.1,2072.1L2121.7,2072.5M2129.7,2074.3L2130.1,2074.4L2132.5,2075L2134.8,2075.5L2137.5,2076.1L2140.2,2076.8L2140.9,2076.9M2148.8,2078.8L2149.5,2078.9L2151.8,2079.4L2154.1,2080L2156.4,2080.5L2159.4,2081.2L2161.8,2081.8L2164.1,2082.3L2166.4,2082.9L2168.9,2083.4L2171.9,2084.1L2174.2,2084.7L2176.5,2085.2L2178.2,2085.6M2186.1,2087.5L2186.5,2087.6L2188.8,2088.1L2191.2,2088.7L2194.3,2089.4L2196.6,2090L2197.3,2090.2M2205.3,2092L2205.8,2092.2L2208.2,2092.7L2210.6,2093.3L2213.6,2094L2215.9,2094.6L2218.2,2095.1L2220.5,2095.7L2223.6,2096.4L2225.9,2097L2228.2,2097.5L2230.6,2098.1L2233.4,2098.8L2234.6,2099.1M2242.5,2101L2242.9,2101.1L2245.2,2101.6L2247.5,2102.2L2249.9,2102.8L2253,2103.5L2253.7,2103.7M2261.7,2105.6L2262.2,2105.8L2264.5,2106.3L2266.9,2106.9L2269.8,2107.6L2272.3,2108.2L2274.6,2108.8L2276.9,2109.4L2279.8,2110.1L2282.3,2110.7L2284.6,2111.3L2286.9,2111.8L2289.9,2112.6L2290.9,2112.8M2298.9,2114.8L2299.3,2114.9L2301.6,2115.5L2303.9,2116L2306.9,2116.8L2309.3,2117.4L2310.1,2117.6M2318,2119.5L2318.6,2119.7L2320.9,2120.3L2324,2121L2326.3,2121.6L2328.6,2122.2L2331,2122.8L2334.1,2123.6L2336.4,2124.1L2338.7,2124.7L2341.2,2125.3L2344.1,2126.1L2346.4,2126.7L2347.3,2126.9M2355.2,2128.9L2355.7,2129L2358.6,2129.7L2361.1,2130.4L2363.4,2131L2365.7,2131.5L2366.4,2131.7M2374.3,2133.7L2375,2133.9L2377.3,2134.5L2379.6,2135.1L2382.7,2135.9L2385,2136.5L2387.3,2137L2390.2,2137.8L2392.8,2138.4L2395.1,2139L2397.4,2139.6L2400.5,2140.4L2402.8,2141L2403.5,2141.2M2411.4,2143.2L2411.6,2143.3L2414.4,2144L2416.7,2144.6L2419,2145.2L2422.1,2146L2422.6,2146.1M2430.5,2148.2L2430.6,2148.2L2433.2,2148.9L2436,2149.6L2438.3,2150.2L2440.6,2150.8L2443.7,2151.6L2446,2152.2L2448.4,2152.8L2451.4,2153.6L2453.8,2154.2L2456.1,2154.8L2458.7,2155.5L2459.7,2155.8M2467.6,2157.8L2467.7,2157.9L2470,2158.5L2473.1,2159.3L2475.4,2159.9L2477.7,2160.5L2478.8,2160.8M2486.6,2162.9L2487,2163L2489.3,2163.6L2491.9,2164.2L2494.7,2165L2497,2165.6L2499.3,2166.2L2502.4,2167L2504.7,2167.7L2507.1,2168.3L2510.2,2169.1L2512.5,2169.7L2514.8,2170.3L2515.8,2170.6M2523.7,2172.7L2524.1,2172.8L2526.4,2173.4L2529.4,2174.2L2531.8,2174.9L2534.1,2175.5L2534.8,2175.7M2542.7,2177.8L2543.4,2178L2545.7,2178.6L2548.4,2179.3L2551.1,2180.1L2553.4,2180.7L2556,2181.4L2558.8,2182.2L2561.1,2182.8L2563.7,2183.5L2566.5,2184.2L2568.9,2184.9L2571.4,2185.5L2571.8,2185.7M2579.7,2187.8L2580.4,2188L2582.9,2188.7L2585.8,2189.5L2588.2,2190.1L2590.7,2190.8L2590.8,2190.8M2598.6,2193L2599,2193.1L2602.1,2193.9L2604.4,2194.5L2606.7,2195.2L2609.8,2196L2612.1,2196.7L2614.4,2197.3L2617.5,2198.1L2619.8,2198.8L2622.1,2199.4L2625.2,2200.3L2627.6,2200.9L2627.8,2201" fill="none" stroke="#FF0000" stroke-width="6.5" stroke-linejoin="round"/>
<path transform="scale(0.8,1)" d="M301.8,2244L301.9,2243.7L302,2242.6L302.1,2241.5L302.2,2240.4L302.3,2239.3L302.4,2238.2L302.5,2237.1L302.5,2236.1L302.6,2235.2L302.7,2234.2L302.8,2233.1L302.9,2232L303,2230.9L303.1,2229.8L303.2,2228.7L303.3,2227.7L303.4,2226.8L303.5,2225.7L303.6,2224.6L303.7,2223.5L303.8,2222.4L304,2221.4L304.1,2220.3L304.1,2219.5L304.3,2218.4L304.4,2217.3L304.5,2216.2L304.6,2215.1L304.7,2214L304.8,2212.9L304.9,2212.1L305,2211L305.1,2209.9L305.3,2208.8L305.4,2207.7L305.5,2206.6L305.6,2205.8L305.7,2204.7L305.8,2203.6L305.9,2202.6L306.1,2201.5L306.2,2200.4L306.3,2199.4L306.4,2198.5L306.5,2197.4L306.7,2196.3L306.8,2195.2L306.9,2194.1L307.1,2193L307.1,2192.2L307.3,2191.1L307.4,2190L307.5,2188.9L307.7,2187.8L307.8,2186.9L307.9,2185.9L308.1,2184.8L308.2,2183.7L308.3,2182.7L308.5,2181.6L308.6,2180.7L308.7,2179.6L308.9,2178.6L309,2177.5L309.1,2176.4L309.3,2175.3L309.4,2174.5L309.5,2173.4L309.7,2172.3L309.8,2171.2L310,2170.1L310.1,2169.3L310.2,2168.2L310.4,2167.1L310.6,2166L310.7,2164.9L310.8,2164.1L311,2163L311.1,2161.9L311.3,2160.8L311.5,2159.7L311.6,2158.9L311.7,2157.8L311.9,2156.7L312.1,2155.6L312.2,2154.5L312.3,2153.7L312.5,2152.6L312.7,2151.5L312.9,2150.4L313,2149.5L313.1,2148.5L313.3,2147.4L313.5,2146.3L313.7,2145.2L313.8,2144.4L314,2143.3L314.2,2142.2L314.3,2141.1L314.5,2140.2L314.6,2139.2L314.8,2138.1L315,2137L315.2,2135.9L315.3,2135.1L315.5,2134L315.7,2132.9L315.9,2131.8L316,2131L316.2,2129.9L316.4,2128.8L316.6,2127.7L316.8,2126.9L317,2125.8L317.2,2124.7L317.4,2123.6L317.5,2122.8L317.7,2121.7L317.9,2120.6L318.1,2119.5L318.3,2118.7L318.5,2117.6L318.7,2116.5L318.9,2115.4L319.1,2114.6L319.3,2113.5L319.5,2112.4L319.7,2111.3L319.9,2110.5L320.1,2109.4L320.3,2108.3L320.5,2107.4L320.7,2106.3L320.9,2105.2L321.1,2104.1L321.3,2103.3L321.5,2102.2L321.8,2101.1L321.9,2100.3L322.2,2099.2L322.4,2098.1L322.6,2097L322.8,2096.2L323,2095.1L323.3,2094L323.5,2093.2L323.7,2092.1L323.9,2091L324.1,2090.1L324.4,2089.1L324.6,2088L324.9,2086.9L325.1,2086L325.3,2085L325.6,2083.9L325.8,2083L326,2081.9L326.3,2080.8L326.5,2080L326.7,2078.9L327,2077.8L327.2,2077L327.5,2075.9L327.7,2074.8L327.9,2074L328.2,2072.9L328.5,2071.8L328.7,2071L329,2069.9L329.2,2068.8L329.5,2067.9L329.7,2066.8L330,2065.7L330.2,2064.9L330.5,2063.8L330.8,2062.7L331,2061.9L331.3,2060.8L331.6,2059.9L331.8,2058.9L332.1,2057.8L332.4,2057L332.7,2055.9L333,2054.8L333.2,2053.9L333.5,2052.8L333.8,2051.8L334.1,2050.9L334.4,2049.8L334.6,2049L334.9,2047.9L335.2,2046.8L335.5,2046L335.8,2044.9L336.1,2044.1L336.4,2043L336.7,2041.9L337,2041L337.3,2039.9L337.5,2039.1L337.9,2038L338.2,2036.9L338.5,2036.1L338.8,2035L339.1,2034.2L339.4,2033.1L339.8,2032.1L340,2031.2L340.4,2030.1L340.7,2029.2L341,2028.1L341.3,2027.3L341.7,2026.2L342,2025.2L342.3,2024.3L342.7,2023.2L343,2022.4L343.3,2021.3L343.6,2020.5L344,2019.4L344.3,2018.5L344.7,2017.5L345,2016.6L345.3,2015.5L345.7,2014.5L346,2013.6L346.4,2012.5L346.7,2011.7L347.1,2010.6L347.4,2009.8L347.8,2008.7L348.1,2007.9L348.5,2006.8L348.8,2005.9L349.3,2004.9L349.6,2004L350,2002.9L350.3,2002.1L350.7,2001L351.1,2000.2L351.5,1999.1L351.8,1998.3L352.2,1997.2L352.6,1996.4L353,1995.3L353.3,1994.5L353.8,1993.4L354.1,1992.5L354.6,1991.4L354.9,1990.6L355.4,1989.5L355.7,1988.7L356.1,1987.7L356.5,1986.8L356.9,1986L357.3,1984.9L357.7,1984.1L358.2,1983L358.5,1982.2L359,1981.1L359.4,1980.2L359.8,1979.2L360.2,1978.3L360.6,1977.5L361.1,1976.4L361.5,1975.6L362,1974.5L362.3,1973.7L362.8,1972.7L363.2,1971.8L363.6,1971L364.1,1969.9L364.5,1969.1L365,1968L365.4,1967.2L365.8,1966.4L366.3,1965.3L366.7,1964.5L367.3,1963.4L367.7,1962.5L368.1,1961.7L368.6,1960.6L369,1959.8L369.5,1958.9L370,1957.9L370.4,1957.1L371,1956.1L371.4,1955.2L371.8,1954.4L372.4,1953.3L372.8,1952.5L373.3,1951.7L373.9,1950.6L374.3,1949.8L374.7,1949L375.3,1947.9L375.8,1947.1L376.2,1946.3L376.8,1945.2L377.3,1944.4L377.7,1943.6L378.3,1942.5L378.8,1941.7L379.3,1940.9L379.9,1939.8L380.4,1939L380.8,1938.2L381.4,1937.2L381.9,1936.3L382.4,1935.5L382.9,1934.7L383.5,1933.6L384,1932.8L384.5,1932L385.1,1931L385.7,1930.1L386.2,1929.3L386.7,1928.5L387.3,1927.4L387.8,1926.6L388.4,1925.8L388.9,1925L389.5,1923.9L390.1,1923.1L390.6,1922.3L391.1,1921.5L391.8,1920.5L392.3,1919.7L392.9,1918.9L393.4,1918.1L394,1917.1L394.7,1916.2L395.2,1915.4L395.8,1914.6L396.3,1913.8L397,1912.8L397.6,1911.9L398.2,1911.1L398.7,1910.3L399.3,1909.5L400,1908.6L400.6,1907.7L401.2,1906.9L401.8,1906.1L402.3,1905.3L402.9,1904.5L403.7,1903.5L404.3,1902.6L404.9,1901.9L405.5,1901.1L406.1,1900.3L406.7,1899.5L407.4,1898.5L408.1,1897.6L408.7,1896.8L409.3,1896.1L410,1895.3L410.6,1894.5L411.2,1893.7L411.9,1892.9L412.6,1891.9L413.3,1891.1L413.9,1890.3L414.6,1889.5L415.2,1888.7L415.9,1887.9L416.5,1887.1L417.2,1886.4L417.8,1885.6L418.6,1884.7L419.3,1883.9L420,1883L420.7,1882.2L421.4,1881.4L422.1,1880.6L422.8,1879.8L423.5,1879.1L424.2,1878.3L424.9,1877.5L425.6,1876.7L426.3,1876L427,1875.2L427.7,1874.4L428.4,1873.6L429.1,1872.9L429.8,1872.1L430.5,1871.3L431.3,1870.6L432,1869.8L432.7,1869L433.5,1868.2L434.2,1867.5L435,1866.7L435.7,1865.9L436.5,1865.2L437.2,1864.4L438,1863.6L438.7,1862.9L439.5,1862.1L440.3,1861.3L441.1,1860.6L441.8,1859.8L442.6,1859.1L443.4,1858.3L444.2,1857.5L445,1856.8L445.8,1856L446.6,1855.3L447.4,1854.5L448.2,1853.8L449,1853L449.8,1852.3L450.5,1851.6L451.3,1851L452.1,1850.2L452.9,1849.5L453.7,1848.7L454.6,1848L455.4,1847.3L456.3,1846.5L457.1,1845.8L458,1845.1L458.7,1844.4L459.5,1843.8L460.3,1843L461.2,1842.3L462.1,1841.5L463,1840.8L463.9,1840.1L464.6,1839.4L465.4,1838.8L466.3,1838.1L467.2,1837.4L468.1,1836.6L469,1835.9L469.9,1835.2L470.6,1834.6L471.5,1833.9L472.4,1833.2L473.4,1832.5L474.3,1831.8L475.1,1831.2L475.9,1830.6L476.8,1829.8L477.8,1829.1L478.8,1828.4L479.5,1827.8L480.4,1827.2L481.4,1826.5L482.4,1825.7L483.2,1825.1L484,1824.5L485,1823.8L486,1823.1L486.9,1822.5L487.7,1821.9L488.7,1821.2L489.7,1820.5L490.7,1819.9L491.5,1819.3L492.5,1818.6L493.5,1817.9L494.4,1817.4L495.3,1816.7L496.3,1816L497.4,1815.4L498.1,1814.9L499.2,1814.2L500.3,1813.5L501.1,1813L502.1,1812.3L503.2,1811.6L504,1811.1L505,1810.5L506.1,1809.8L507,1809.2L508,1808.6L509.1,1808L510,1807.4L511,1806.8L512.1,1806.1L513,1805.6L514,1805L515.2,1804.3L515.9,1803.9L517.1,1803.2L518.2,1802.6L519,1802.1L520.2,1801.4L521.1,1800.9L522.2,1800.3L523.4,1799.6L524.2,1799.2L525.4,1798.5L526.3,1798L527.4,1797.4L528.6,1796.8L529.4,1796.3L530.7,1795.6L531.6,1795.2L532.7,1794.6L533.8,1794L534.8,1793.5L536,1792.8L536.9,1792.4L538.2,1791.7L539,1791.3L540.3,1790.7L541.2,1790.2L542.5,1789.6L543.4,1789.1L544.6,1788.5L545.7,1788L546.8,1787.5L547.9,1786.9L549,1786.4L550.1,1785.9L551.2,1785.4L552.4,1784.8L553.5,1784.3L554.6,1783.8L555.7,1783.3L556.8,1782.8L558,1782.2L559.1,1781.8L560.3,1781.2L561.3,1780.8L562.6,1780.2L563.6,1779.8L565,1779.2L565.9,1778.8L567.2,1778.2L568.3,1777.7L569.5,1777.2L570.6,1776.7L571.7,1776.3L573,1775.7L574,1775.3L575.4,1774.8L576.4,1774.4L577.6,1773.9L578.9,1773.4L579.9,1773L581.4,1772.4L582.4,1772L583.6,1771.5L584.9,1771L585.9,1770.7L587.3,1770.1L588.4,1769.7L589.5,1769.3L591,1768.7L592,1768.4L593.3,1767.9L594.6,1767.4L595.6,1767L597,1766.6L598.2,1766.1L599.3,1765.7L600.7,1765.2L601.9,1764.8L603,1764.4L604.4,1764L605.7,1763.5L606.8,1763.2L608.1,1762.7L609.5,1762.3L610.6,1761.9L611.8,1761.5L613.3,1761L614.4,1760.6L615.6,1760.3L617,1759.8L618.3,1759.4L619.4,1759L620.8,1758.6L622.2,1758.2L623.4,1757.8L624.5,1757.5L626,1757.1L627.4,1756.6L628.5,1756.3L629.7,1755.9L631.2,1755.5L632.6,1755.1L633.8,1754.8L634.9,1754.4L636.4,1754L637.9,1753.6L639.1,1753.3L640.3,1752.9L641.6,1752.6L643.1,1752.2L644.5,1751.8L645.7,1751.5L646.9,1751.2L648.3,1750.8L649.7,1750.4L651.2,1750L652.4,1749.7L653.7,1749.4L655,1749.1L656.4,1748.7L657.9,1748.4L659.3,1748L660.5,1747.7L661.8,1747.4L663.1,1747.1L664.6,1746.7L666.1,1746.4L667.5,1746.1L668.8,1745.8L670.1,1745.5L671.4,1745.2L672.8,1744.9L674.3,1744.5L675.8,1744.2L677.3,1743.9L678.6,1743.6L680,1743.3L681.3,1743L682.6,1742.7L684,1742.5L685.4,1742.2L686.9,1741.9L688.4,1741.6L689.9,1741.3L691.4,1741L692.8,1740.7L694.1,1740.4L695.5,1740.2L696.9,1739.9L698.3,1739.6L699.7,1739.4L701.1,1739.1L702.5,1738.8L704,1738.6L705.5,1738.3L707,1738L708.5,1737.8L710,1737.5L711.5,1737.3L712.9,1737L714.4,1736.8L715.9,1736.5L717.4,1736.3L718.9,1736L720.4,1735.8L721.9,1735.6L723.3,1735.3L724.8,1735.1L726.3,1734.9L727.8,1734.6L729.3,1734.4L730.8,1734.2L732.3,1734L733.8,1733.8L735.2,1733.5L736.7,1733.3L738.2,1733.1L739.7,1732.9L741.2,1732.7L742.7,1732.5L744.2,1732.3L745.6,1732.1L747.1,1731.9L748.6,1731.7L750.1,1731.5L751.6,1731.4L753.1,1731.2L754.7,1731L756.3,1730.8L757.8,1730.6L759.4,1730.4L761,1730.2L762.6,1730L764.2,1729.9L765.7,1729.7L767.2,1729.5L768.7,1729.4L770.2,1729.2L771.7,1729.1L773.2,1728.9L774.9,1728.7L776.5,1728.6L778.2,1728.4L779.8,1728.2L781.3,1728.1L782.8,1728L784.3,1727.8L785.8,1727.7L787.4,1727.5L789.1,1727.4L790.8,1727.2L792.5,1727.1L794,1727L795.5,1726.8L796.9,1726.7L798.5,1726.6L800.2,1726.5L802,1726.3L803.6,1726.2L805.1,1726.1L806.6,1726L808.1,1725.9L809.9,1725.8L811.6,1725.6L813.3,1725.5L814.8,1725.4L816.3,1725.3L817.9,1725.2L819.7,1725.1L821.5,1725L823,1724.9L824.4,1724.9L826,1724.8L827.9,1724.7L829.6,1724.6L831.1,1724.5L832.6,1724.4L834.3,1724.4L836.1,1724.3L837.8,1724.2L839.3,1724.1L840.8,1724.1L842.7,1724L844.5,1723.9L846,1723.8L847.5,1723.8L849.3,1723.7L851.2,1723.7L852.7,1723.6L854.2,1723.6L856,1723.5L857.9,1723.4L859.4,1723.4L860.9,1723.4L862.8,1723.3L864.6,1723.3L866.1,1723.2L867.7,1723.2L869.6,1723.2L871.3,1723.1L872.8,1723.1L874.6,1723.1L876.5,1723L878,1723L879.6,1723L881.6,1723L883.2,1722.9L884.7,1722.9L886.6,1722.9L888.4,1722.9L889.9,1722.9L891.7,1722.9L893.6,1722.9L895.1,1722.9L896.8,1722.9L898.8,1722.9L900.3,1722.9L902,1722.9L904,1722.9L905.5,1722.9L907.2,1722.9L909.2,1722.9L910.7,1722.9L912.5,1722.9L914.4,1722.9L915.9,1723L917.8,1723L919.6,1723L921.1,1723L923.2,1723.1L924.8,1723.1L926.4,1723.1L928.5,1723.2L930,1723.2L931.8,1723.2L933.7,1723.3L935.2,1723.3L937.3,1723.4L938.9,1723.4L940.6,1723.4L942.6,1723.5L944.1,1723.5L946.2,1723.6L947.8,1723.7L949.5,1723.7L951.6,1723.8L953,1723.8L955.2,1723.9L956.8,1724L958.6,1724L960.5,1724.1L962,1724.2L964.2,1724.2L965.7,1724.3L967.7,1724.4L969.4,1724.5L971.2,1724.5L973.1,1724.6L974.6,1724.7L976.8,1724.8L978.3,1724.9L980.5,1725L982,1725.1L984,1725.2L985.8,1725.3L987.6,1725.4L989.5,1725.5L991.1,1725.6L993.2,1725.7L994.7,1725.8L996.9,1725.9L998.4,1726L1000.6,1726.1L1002.1,1726.2L1004.3,1726.3L1005.8,1726.4L1008,1726.6L1009.5,1726.7L1011.7,1726.8L1013.3,1726.9L1015.4,1727.1L1017,1727.2L1019.1,1727.3L1020.7,1727.5L1022.8,1727.6L1024.4,1727.7L1026.5,1727.9L1028.1,1728L1030.3,1728.2L1031.8,1728.3L1034.1,1728.5L1035.6,1728.6L1037.8,1728.8L1039.3,1728.9L1041.5,1729.1L1043,1729.2L1045.2,1729.4L1046.8,1729.5L1048.9,1729.7L1050.7,1729.8L1052.7,1730L1054.6,1730.2L1056.4,1730.3L1058.5,1730.5L1060.1,1730.7L1062.3,1730.9L1063.8,1731L1066,1731.2L1067.7,1731.4L1069.8,1731.6L1071.6,1731.8L1073.5,1731.9L1075.6,1732.1L1077.2,1732.3L1079.4,1732.5L1081,1732.7L1083.1,1732.9L1085,1733.1L1086.9,1733.3L1089.1,1733.5L1090.6,1733.7L1092.8,1733.9L1094.5,1734.1L1096.5,1734.3L1098.6,1734.5L1100.2,1734.7L1102.5,1734.9L1104.1,1735.1L1106.2,1735.4L1108.3,1735.6L1109.9,1735.8L1112.1,1736L1113.9,1736.2L1115.9,1736.5L1118.1,1736.7L1119.6,1736.9L1121.8,1737.2L1123.7,1737.4L1125.5,1737.6L1127.7,1737.9L1129.4,1738.1L1131.5,1738.3L1133.7,1738.6L1135.2,1738.8L1137.4,1739.1L1139.4,1739.3L1141.1,1739.5L1143.4,1739.8L1145.2,1740L1147.1,1740.3L1149.3,1740.6L1151.1,1740.8L1153,1741.1L1155.2,1741.3L1156.9,1741.6L1159,1741.8L1161.2,1742.1L1162.8,1742.4L1164.9,1742.6L1167.1,1742.9L1168.8,1743.2L1170.9,1743.5L1173.1,1743.8L1174.8,1744L1176.8,1744.3L1179,1744.6L1180.8,1744.8L1182.8,1745.1L1185,1745.4L1186.9,1745.7L1188.7,1746L1190.9,1746.3L1193,1746.6L1194.6,1746.8L1196.9,1747.2L1199.1,1747.5L1200.7,1747.7L1202.8,1748.1L1205.1,1748.4L1206.9,1748.7L1208.8,1749L1211,1749.3L1213.1,1749.6L1214.7,1749.9L1217,1750.2L1219.2,1750.6L1221,1750.8L1222.9,1751.1L1225.1,1751.5L1227.3,1751.8L1228.9,1752.1L1231.1,1752.4L1233.3,1752.8L1235.3,1753.1L1237,1753.4L1239.3,1753.8L1241.5,1754.1L1243.4,1754.4L1245.2,1754.7L1247.4,1755.1L1249.7,1755.5L1251.5,1755.8L1253.4,1756.1L1255.6,1756.5L1257.8,1756.8L1259.7,1757.2L1261.6,1757.5L1263.8,1757.9L1266,1758.2L1268,1758.6L1269.7,1758.9L1272,1759.3L1274.2,1759.7L1276.3,1760L1278,1760.3L1280.1,1760.7L1282.4,1761.1L1284.6,1761.5L1286.4,1761.8L1288.3,1762.1L1290.5,1762.5L1292.8,1762.9L1294.9,1763.3L1296.6,1763.6L1298.7,1764L1301,1764.4L1303.2,1764.8L1305.2,1765.2L1306.9,1765.5L1309.1,1765.9L1311.4,1766.4L1313.6,1766.8L1315.5,1767.1L1317.3,1767.5L1319.5,1767.9L1321.8,1768.3L1324,1768.7L1326,1769.1L1327.8,1769.5L1329.9,1769.9L1332.2,1770.3L1334.4,1770.7L1336.6,1771.2L1338.4,1771.5L1340.4,1771.9L1342.6,1772.3L1344.8,1772.8L1347,1773.2L1349.1,1773.6L1350.9,1774L1353,1774.4L1355.2,1774.8L1357.4,1775.3L1359.7,1775.7L1361.8,1776.1L1363.6,1776.5L1365.6,1776.9L1367.9,1777.4L1370.1,1777.8L1372.3,1778.3L1374.5,1778.7L1376.5,1779.1L1378.3,1779.5L1380.5,1779.9L1382.7,1780.4L1385,1780.9L1387.2,1781.3L1389.4,1781.8L1391.3,1782.2L1393.2,1782.6L1395.4,1783L1397.6,1783.5L1399.8,1784L1402.1,1784.5L1404.3,1784.9L1406.4,1785.4L1408.2,1785.8L1410.2,1786.2L1412.5,1786.7L1414.7,1787.2L1416.9,1787.6L1419.2,1788.1L1421.4,1788.6L1423.5,1789.1L1425.5,1789.5L1427.4,1789.9L1429.6,1790.4L1431.8,1790.9L1434,1791.4L1436.2,1791.9L1438.5,1792.4L1440.7,1792.9L1442.9,1793.4L1444.9,1793.8L1446.8,1794.2L1448.9,1794.7L1451.1,1795.2L1453.3,1795.7L1455.6,1796.2L1457.8,1796.7L1460,1797.2L1462.3,1797.7L1464.5,1798.2L1466.6,1798.7L1468.6,1799.2L1470.6,1799.6L1472.7,1800.1L1474.9,1800.6L1477.1,1801.1L1479.4,1801.6L1481.6,1802.2L1483.8,1802.7L1486.1,1803.2L1488.3,1803.7L1490.5,1804.3L1492.7,1804.8L1494.9,1805.3L1497,1805.8L1499,1806.3L1501.1,1806.7L1503.2,1807.2L1505.4,1807.8L1507.6,1808.3L1509.8,1808.8L1512.1,1809.4L1514.3,1809.9L1516.5,1810.4L1518.8,1811L1521,1811.5L1523.2,1812.1L1525.5,1812.6L1527.7,1813.2L1529.9,1813.7L1532.1,1814.2L1534.4,1814.8L1536.5,1815.3L1538.6,1815.8L1540.7,1816.4L1542.9,1816.9L1545,1817.4L1547.1,1817.9L1549.3,1818.5L1551.5,1819L1553.7,1819.6L1555.9,1820.1L1558.2,1820.7L1560.4,1821.3L1562.6,1821.8L1564.9,1822.4L1567.1,1822.9L1569.3,1823.5L1571.5,1824.1L1573.8,1824.6L1576,1825.2L1578.2,1825.8L1580.5,1826.3L1582.7,1826.9L1584.9,1827.5L1587.2,1828.1L1589.4,1828.6L1591.6,1829.2L1593.8,1829.8L1596.1,1830.4L1598.3,1830.9L1600.5,1831.5L1602.8,1832.1L1605,1832.7L1607.2,1833.3L1609.5,1833.8L1611.7,1834.4L1613.9,1835L1616.1,1835.6L1618.4,1836.2L1620.6,1836.8L1622.8,1837.4L1625.1,1838L1627.3,1838.6L1629.5,1839.1L1631.8,1839.7L1634,1840.3L1636.2,1840.9L1638.4,1841.5L1640.7,1842.1L1642.9,1842.7L1645.1,1843.3L1647.4,1843.9L1649.6,1844.5L1651.8,1845.1L1654.1,1845.7L1656.3,1846.3L1658.5,1846.9L1660.7,1847.6L1663,1848.2L1665.4,1848.8L1667.7,1849.5L1670,1850.1L1672.4,1850.7L1674.7,1851.4L1677.1,1852L1679.3,1852.7L1681.6,1853.3L1683.8,1853.9L1686,1854.5L1688.3,1855.1L1690.5,1855.7L1692.7,1856.4L1694.9,1857L1697.2,1857.6L1699.4,1858.2L1701.6,1858.9L1703.9,1859.5L1706.1,1860.1L1708.3,1860.7L1710.6,1861.4L1712.8,1862L1715.2,1862.7L1717.7,1863.4L1720.1,1864.1L1722.5,1864.7L1724.7,1865.4L1726.9,1866L1729.1,1866.7L1731.4,1867.3L1733.6,1867.9L1735.8,1868.6L1738.1,1869.2L1740.3,1869.9L1742.5,1870.5L1744.8,1871.1L1747,1871.8L1749.5,1872.5L1752,1873.2L1754.4,1873.9L1756.6,1874.6L1758.9,1875.2L1761.1,1875.9L1763.3,1876.5L1765.6,1877.2L1767.8,1877.8L1770,1878.5L1772.3,1879.2L1774.5,1879.8L1777,1880.5L1779.5,1881.3L1781.9,1882L1784.2,1882.7L1786.4,1883.3L1788.6,1884L1790.8,1884.6L1793.1,1885.3L1795.3,1886L1797.5,1886.6L1799.8,1887.3L1802.4,1888.1L1805,1888.9L1807.2,1889.5L1809.4,1890.2L1811.7,1890.9L1813.9,1891.5L1816.1,1892.2L1818.3,1892.9L1820.6,1893.6L1823.1,1894.3L1825.7,1895.1L1828,1895.8L1830.2,1896.5L1832.5,1897.2L1834.7,1897.8L1836.9,1898.5L1839.2,1899.2L1841.4,1899.9L1844,1900.7L1846.6,1901.5L1848.8,1902.2L1851.1,1902.8L1853.3,1903.5L1855.5,1904.2L1857.7,1904.9L1860,1905.6L1862.5,1906.4L1865.2,1907.2L1867.4,1907.9L1869.6,1908.6L1871.9,1909.3L1874.1,1910L1876.3,1910.7L1878.6,1911.4L1881.3,1912.2L1883.8,1913L1886,1913.7L1888.2,1914.4L1890.5,1915.1L1892.7,1915.8L1894.9,1916.5L1897.6,1917.3L1900.1,1918.1L1902.3,1918.8L1904.6,1919.5L1906.8,1920.2L1909,1921L1911.3,1921.7L1914,1922.5L1916.5,1923.3L1918.7,1924L1920.9,1924.7L1923.2,1925.4L1925.4,1926.2L1927.9,1927L1930.6,1927.8L1932.8,1928.5L1935.1,1929.3L1937.3,1930L1939.5,1930.7L1941.8,1931.4L1944.6,1932.3L1947,1933.1L1949.2,1933.8L1951.4,1934.5L1953.6,1935.3L1955.9,1936L1958.7,1936.9L1961.1,1937.7L1963.3,1938.4L1965.5,1939.1L1967.8,1939.8L1970.1,1940.6L1972.9,1941.5L1975.2,1942.3L1977.4,1943L1979.7,1943.7L1981.9,1944.5L1984.4,1945.3L1987.1,1946.2L1989.3,1946.9L1991.6,1947.6L1993.8,1948.4L1996,1949.1L1998.8,1950L2001.2,1950.8L2003.4,1951.6L2005.7,1952.3L2007.9,1953.1L2010.4,1953.9L2013.1,1954.8L2015.3,1955.5L2017.6,1956.3L2019.8,1957L2022.1,1957.8L2025,1958.8L2027.2,1959.5L2029.5,1960.2L2031.7,1961L2033.9,1961.7L2036.9,1962.7L2039.1,1963.5L2041.4,1964.2L2043.6,1965L2045.8,1965.8L2048.8,1966.7L2051,1967.5L2053.3,1968.3L2055.5,1969L2057.7,1969.8L2060.7,1970.8L2062.9,1971.5L2065.1,1972.3L2067.4,1973.1L2069.8,1973.9L2072.6,1974.8L2074.8,1975.6L2077,1976.4L2079.3,1977.1L2081.9,1978L2084.5,1978.9L2086.7,1979.7L2088.9,1980.4L2091.2,1981.2L2094.1,1982.2L2096.4,1983L2098.6,1983.8L2100.8,1984.5L2103.3,1985.4L2106,1986.3L2108.3,1987.1L2110.5,1987.9L2112.7,1988.7L2115.6,1989.7L2117.9,1990.5L2120.2,1991.2L2122.4,1992L2124.9,1992.9L2127.6,1993.8L2129.8,1994.6L2132.1,1995.4L2134.3,1996.2L2137.3,1997.2L2139.5,1998L2141.7,1998.8L2143.9,1999.6L2146.8,2000.6L2149.2,2001.4L2151.4,2002.2L2153.6,2003L2156.3,2003.9L2158.8,2004.8L2161,2005.6L2163.3,2006.4L2165.8,2007.3L2168.5,2008.2L2170.7,2009L2172.9,2009.8L2175.4,2010.7L2178.1,2011.6L2180.4,2012.4L2182.6,2013.2L2185,2014.1L2187.8,2015.1L2190,2015.9L2192.3,2016.7L2194.6,2017.5L2197.5,2018.5L2199.7,2019.3L2201.9,2020.1L2204.4,2021L2207.1,2022L2209.4,2022.8L2211.6,2023.6L2214.1,2024.5L2216.8,2025.5L2219,2026.3L2221.3,2027.1L2223.9,2028.1L2226.5,2029L2228.7,2029.8L2230.9,2030.6L2233.8,2031.6L2236.1,2032.5L2238.4,2033.3L2240.6,2034.1L2243.6,2035.2L2245.8,2036L2248,2036.8L2250.3,2037.6L2253.2,2038.7L2255.5,2039.5L2257.7,2040.3L2260.3,2041.3L2262.9,2042.2L2265.1,2043.1L2267.3,2043.9L2270.3,2045L2272.6,2045.8L2274.8,2046.6L2277.1,2047.5L2280,2048.5L2282.2,2049.3L2284.4,2050.2L2287.2,2051.2L2289.7,2052.1L2291.9,2052.9L2294.1,2053.7L2297.1,2054.8L2299.3,2055.7L2301.5,2056.5L2304.2,2057.5L2306.7,2058.4L2309,2059.3L2311.2,2060.1L2314.2,2061.2L2316.4,2062L2318.6,2062.9L2321.4,2063.9L2323.8,2064.8L2326.1,2065.6L2328.3,2066.5L2331.3,2067.6L2333.5,2068.4L2335.7,2069.2L2338.7,2070.3L2340.9,2071.2L2343.2,2072L2345.6,2073L2348.4,2074L2350.6,2074.8L2352.8,2075.7L2355.8,2076.8L2358,2077.6L2360.3,2078.5L2363.1,2079.6L2365.5,2080.4L2367.7,2081.3L2370.2,2082.2L2372.9,2083.3L2375.1,2084.1L2377.4,2085L2380.3,2086.1L2382.6,2086.9L2384.8,2087.8L2387.8,2088.9L2390,2089.8L2392.2,2090.6L2395,2091.7L2397.4,2092.6L2399.7,2093.5L2402.1,2094.4L2404.9,2095.5L2407.1,2096.3L2409.3,2097.2L2412.3,2098.3L2414.5,2099.2L2416.8,2100L2419.7,2101.2L2422,2102L2424.2,2102.9L2427.2,2104L2429.4,2104.9L2431.6,2105.7L2434.6,2106.9L2436.8,2107.7L2439.1,2108.6L2441.9,2109.7L2444.3,2110.6L2446.5,2111.5L2449.2,2112.5L2451.7,2113.5L2453.9,2114.4L2456.5,2115.4L2459.1,2116.4L2461.4,2117.3L2463.9,2118.2L2466.6,2119.3L2468.8,2120.2L2471.3,2121.1L2474,2122.2L2476.2,2123.1L2478.7,2124L2481.4,2125.1L2483.7,2126L2486.1,2126.9L2488.9,2128L2491.1,2128.9L2493.6,2129.9L2496.3,2130.9L2498.5,2131.8L2501.1,2132.8L2503.7,2133.8L2506,2134.7L2508.6,2135.7L2511.2,2136.8L2513.4,2137.7L2516.1,2138.7L2518.6,2139.7L2520.8,2140.6L2523.7,2141.7L2526,2142.7L2528.3,2143.5L2531.2,2144.7" fill="none" stroke="#00FF00" stroke-width="6.2" stroke-linejoin="round"/>
<path transform="scale(0.71,1)" d="M340.1,1726.8L340.1,1726.7L340.3,1726.1L340.4,1725.5L340.5,1725L340.6,1724.4L340.7,1723.9L340.8,1723.3L340.9,1722.8L341,1722.3L341.1,1721.8L341.2,1721.2L341.3,1720.7L341.5,1720.1L341.5,1719.9M344.6,1706.2L344.6,1706.2L344.7,1705.6L344.9,1705.1L345,1704.5L345.1,1704L345.3,1703.5L345.4,1703L345.6,1702.4L345.7,1701.8L345.8,1701.3L346,1700.7L346.1,1700.3L346.2,1699.7L346.3,1699.4M350.3,1685.8L350.3,1685.7L350.5,1685.1L350.6,1684.6L350.8,1684L351,1683.5L351.1,1683L351.3,1682.5L351.5,1681.9L351.7,1681.3L351.8,1680.8L352,1680.4L352.2,1679.8L352.4,1679.2L352.4,1679.2M357.3,1665.7L357.3,1665.7L357.6,1665.1L357.7,1664.7L357.9,1664.1L358.2,1663.6L358.4,1663L358.6,1662.6L358.8,1662L359,1661.4L359.3,1660.9L359.5,1660.5L359.7,1659.9L359.9,1659.3L360,1659.2M366,1646.1L366.1,1646L366.3,1645.6L366.6,1645L366.9,1644.4L367.1,1644L367.4,1643.4L367.7,1642.9L367.9,1642.4L368.2,1641.9L368.5,1641.3L368.7,1640.9L369,1640.3L369.2,1639.9M376.4,1627.4L376.4,1627.4L376.8,1626.8L377.1,1626.4L377.4,1625.8L377.8,1625.2L378,1624.8L378.4,1624.2L378.7,1623.8L379.1,1623.2L379.4,1622.7L379.7,1622.3L380.1,1621.7L380.2,1621.6M388.5,1609.9L388.5,1609.9L388.8,1609.5L389.3,1608.9L389.6,1608.5L390,1607.9L390.4,1607.5L390.8,1606.9L391.2,1606.4L391.6,1605.9L392.1,1605.4L392.4,1604.9L392.8,1604.5M402.1,1593.8L402.1,1593.8L402.5,1593.3L402.9,1592.9L403.5,1592.3L403.9,1591.9L404.4,1591.4L404.8,1590.9L405.4,1590.4L405.8,1589.9L406.3,1589.4L406.8,1589L406.9,1588.8M416.9,1579.3L417,1579.3L417.4,1578.9L418,1578.4L418.5,1577.9L419,1577.5L419.7,1576.9L420.2,1576.5L420.6,1576.1L421.3,1575.5L421.8,1575.1L422.2,1574.8M432.7,1566.4L432.8,1566.4L433.3,1566L433.9,1565.5L434.6,1565L435.2,1564.6L435.7,1564.2L436.4,1563.7L437.1,1563.3L437.6,1562.8L438.2,1562.4L438.3,1562.3M449.2,1555.1L449.3,1555L450,1554.6L450.7,1554.1L451.5,1553.6L452.1,1553.2L452.7,1552.8L453.4,1552.4L454.1,1552L454.9,1551.5L455.1,1551.4M466.2,1545.1L466.2,1545L467,1544.6L467.7,1544.2L468.4,1543.9L469.1,1543.5L470,1543L470.8,1542.6L471.6,1542.2L472.3,1541.8M483.4,1536.3L483.5,1536.3L484.4,1535.9L485.2,1535.5L486,1535.1L486.8,1534.7L487.6,1534.4L488.5,1534L489.3,1533.6L489.7,1533.4M501,1528.6L501.2,1528.5L502.1,1528.1L503,1527.8L503.9,1527.4L504.8,1527.1L505.7,1526.7L506.6,1526.3L507.5,1526M518.9,1521.8L519.1,1521.7L520.1,1521.3L521,1521L521.9,1520.7L522.7,1520.4L523.8,1520L524.8,1519.7L525.4,1519.5M536.9,1515.7L537,1515.7L537.8,1515.5L538.8,1515.1L539.9,1514.8L541,1514.5L542,1514.2L542.8,1513.9L543.5,1513.7M555.3,1510.4L555.4,1510.4L556.2,1510.1L557.4,1509.8L558.6,1509.5L559.6,1509.2L560.5,1509L561.7,1508.7L561.9,1508.6M573.9,1505.7L574.1,1505.6L575.4,1505.3L576.3,1505.1L577.5,1504.8L578.8,1504.5L579.7,1504.3L580.6,1504.1M592.8,1501.5L593,1501.4L593.9,1501.3L595.3,1501L596.4,1500.8L597.6,1500.5L598.9,1500.3L599.6,1500.1M612.1,1497.8L612.3,1497.8L613.3,1497.6L614.7,1497.3L615.7,1497.2L617.2,1496.9L618.2,1496.7L618.9,1496.6M631.5,1494.6L631.6,1494.6L633,1494.4L634.1,1494.2L635.6,1494L636.7,1493.9L638.3,1493.6L638.4,1493.6M651.2,1491.9L651.3,1491.9L652.5,1491.7L654.1,1491.5L655.2,1491.4L656.7,1491.2L658,1491L658.1,1491M671.1,1489.5L671.2,1489.5L672.7,1489.4L674.2,1489.2L675.4,1489.1L676.8,1489L677.9,1488.8M691.1,1487.6L691.2,1487.6L692.8,1487.5L694.3,1487.3L695.5,1487.2L696.9,1487.1L698,1487M711.3,1486L711.6,1486L712.9,1485.9L714.5,1485.8L716.2,1485.7L717.5,1485.6L718.1,1485.6M731.5,1484.8L731.8,1484.8L733.1,1484.7L734.6,1484.7L736.3,1484.6L738,1484.5L738.4,1484.5M751.9,1483.9L752.2,1483.9L753.7,1483.8L755.2,1483.8L756.6,1483.7L758.1,1483.7L758.8,1483.7M772.3,1483.3L772.3,1483.3L773.8,1483.3L775.3,1483.2L776.9,1483.2L778.4,1483.2L779.2,1483.2M792.7,1483L793.2,1483L794.8,1483L796.4,1483L798,1483L799.6,1482.9M813.1,1482.9L813.4,1482.9L815,1482.9L816.7,1483L818.4,1483L820,1483M833.6,1483.1L833.8,1483.1L835.5,1483.2L837.3,1483.2L839,1483.2L840.5,1483.3M854,1483.6L854,1483.6L855.8,1483.6L857.6,1483.7L859.4,1483.7L860.9,1483.8M874.4,1484.2L874.5,1484.2L876.2,1484.3L877.9,1484.3L879.7,1484.4L881.3,1484.5M894.7,1485.1L895,1485.1L896.9,1485.2L898.8,1485.3L900.5,1485.3L901.6,1485.4M915,1486.1L915.6,1486.1L917.2,1486.2L918.9,1486.3L920.7,1486.4L921.9,1486.5M935.2,1487.3L935.7,1487.3L937.3,1487.5L939.1,1487.6L941.2,1487.7L942,1487.8M955.3,1488.7L955.8,1488.7L957.4,1488.9L959.2,1489L961.4,1489.2L962.1,1489.2M975.3,1490.2L975.6,1490.3L977.5,1490.4L979.2,1490.6L981.1,1490.7L982.2,1490.8M995.3,1491.9L995.7,1492L997.6,1492.2L999.3,1492.3L1001.4,1492.5L1002.2,1492.6M1015.2,1493.8L1015.2,1493.8L1016.9,1493.9L1018.8,1494.1L1021.1,1494.3L1022.1,1494.4M1035.1,1495.8L1035.3,1495.8L1037,1496L1039.1,1496.2L1041.2,1496.4L1041.9,1496.5M1054.9,1497.9L1055,1497.9L1057.1,1498.1L1058.8,1498.3L1061.2,1498.6L1061.8,1498.6M1074.7,1500.1L1074.7,1500.1L1076.4,1500.3L1078.9,1500.6L1080.6,1500.8L1081.5,1500.9M1094.4,1502.4L1094.8,1502.5L1097,1502.7L1099,1503L1101,1503.2L1101.3,1503.3M1114.1,1504.9L1114.2,1504.9L1116.6,1505.2L1118.3,1505.4L1120.8,1505.7L1121,1505.8M1133.8,1507.4L1134.2,1507.5L1135.9,1507.7L1138.4,1508.1L1140,1508.3L1140.6,1508.4M1153.5,1510.1L1154,1510.2L1156,1510.5L1158.2,1510.8L1160.1,1511.1L1160.3,1511.1M1173.1,1512.9L1173.5,1513L1175.3,1513.2L1177.7,1513.6L1179.6,1513.8L1179.9,1513.9M1192.7,1515.8L1192.8,1515.8L1194.5,1516L1197,1516.4L1198.7,1516.7L1199.5,1516.8M1212.3,1518.7L1212.9,1518.8L1215.1,1519.2L1217.1,1519.5L1219.1,1519.8M1231.9,1521.8L1232.2,1521.9L1234.7,1522.3L1236.5,1522.5L1238.7,1522.9M1251.5,1525L1252.1,1525.1L1254,1525.4L1256.5,1525.8L1258.3,1526.1M1271.1,1528.2L1271.5,1528.3L1274.1,1528.7L1275.9,1529L1277.9,1529.4M1290.7,1531.6L1290.8,1531.6L1293.3,1532L1295.5,1532.4L1297.5,1532.7L1297.5,1532.7M1310.3,1535L1310.4,1535L1312.6,1535.4L1315.1,1535.8L1317.1,1536.2L1317.1,1536.2M1329.9,1538.5L1330.2,1538.5L1332.3,1538.9L1334.4,1539.3L1336.7,1539.7M1349.6,1542.1L1350.3,1542.2L1352.8,1542.7L1354.7,1543L1356.3,1543.3M1369.2,1545.7L1369.5,1545.8L1372.1,1546.3L1374.1,1546.7L1376,1547M1388.8,1549.5L1389.6,1549.6L1392,1550.1L1393.8,1550.5L1395.6,1550.8M1408.5,1553.3L1408.9,1553.4L1411.4,1553.9L1413.9,1554.4L1415.2,1554.6M1428.1,1557.2L1428.2,1557.2L1430.7,1557.7L1432.6,1558.1L1434.9,1558.6L1434.9,1558.6M1447.8,1561.2L1448.3,1561.3L1450.8,1561.8L1453.3,1562.3L1454.6,1562.6M1467.5,1565.2L1467.5,1565.2L1470.1,1565.8L1472.6,1566.3L1474.3,1566.6M1487.2,1569.3L1487.6,1569.4L1490.2,1570L1492.3,1570.4L1494,1570.8M1506.9,1573.5L1507.7,1573.7L1510.2,1574.2L1512.2,1574.7L1513.7,1575M1526.7,1577.8L1527,1577.9L1529.5,1578.4L1532,1579L1533.4,1579.3M1546.4,1582.1L1546.9,1582.2L1549,1582.7L1551.3,1583.2L1553.2,1583.6M1566.2,1586.5L1566.4,1586.5L1568.9,1587.1L1571.4,1587.7L1572.9,1588M1586,1591L1586.5,1591.1L1589,1591.6L1591.2,1592.1L1592.7,1592.5M1605.8,1595.5L1606.3,1595.6L1608.4,1596.1L1610.8,1596.6L1612.6,1597M1625.7,1600.1L1625.9,1600.1L1628.2,1600.7L1630.4,1601.2L1632.4,1601.6M1645.5,1604.7L1645.9,1604.8L1648.2,1605.3L1650.4,1605.9L1652.3,1606.3M1665.4,1609.4L1666.1,1609.6L1668.5,1610.2L1670.8,1610.7L1672.1,1611M1685.3,1614.2L1685.3,1614.2L1687.8,1614.8L1690.3,1615.4L1692,1615.8M1705.2,1619L1705.4,1619.1L1707.8,1619.7L1710.1,1620.2L1711.9,1620.7M1725.2,1623.9L1725.5,1624L1728,1624.6L1730.6,1625.3L1731.9,1625.6M1745.1,1628.9L1745.6,1629L1748.1,1629.6L1750.6,1630.3L1751.8,1630.6M1765,1633.9L1765.1,1633.9L1767.6,1634.5L1770,1635.1L1771.7,1635.6M1785,1638.9L1785.8,1639.2L1788.3,1639.8L1790.9,1640.4L1791.7,1640.6M1805,1644.1L1805.1,1644.1L1807.6,1644.7L1810.1,1645.4L1811.7,1645.8M1825,1649.2L1825.2,1649.3L1827.7,1649.9L1830.2,1650.6L1831.6,1651M1845,1654.4L1845.3,1654.5L1847.8,1655.2L1850.3,1655.8L1851.6,1656.2M1865,1659.7L1865.4,1659.8L1867.9,1660.5L1870.4,1661.1L1871.6,1661.5M1885,1665L1885.5,1665.2L1888,1665.8L1890.5,1666.5L1891.6,1666.8M1905,1670.4L1905.6,1670.5L1908.1,1671.2L1910.6,1671.9L1911.6,1672.2M1925,1675.8L1925.7,1676L1928.2,1676.7L1930.7,1677.4L1931.6,1677.6M1945,1681.2L1945.8,1681.5L1948.3,1682.2L1950.8,1682.8L1951.7,1683.1M1965,1686.7L1965.1,1686.8L1967.6,1687.5L1970.1,1688.2L1971.7,1688.6M1985,1692.3L1985.2,1692.3L1987.7,1693L1990.2,1693.7L1991.7,1694.1M2005.1,1697.9L2005.2,1697.9L2007.8,1698.7L2010.3,1699.4L2011.7,1699.8M2025.1,1703.5L2025.2,1703.6L2027.9,1704.3L2030.4,1705L2031.7,1705.4M2045.1,1709.2L2045.5,1709.3L2048,1710L2050.5,1710.7L2051.8,1711.1M2065.1,1714.9L2065.6,1715L2068.1,1715.8L2070.6,1716.5L2071.8,1716.8M2085.1,1720.7L2085.7,1720.8L2088.2,1721.6L2090.7,1722.3L2091.8,1722.6M2105.2,1726.5L2105.8,1726.7L2108.3,1727.4L2110.8,1728.1L2111.8,1728.4M2125.2,1732.3L2125.9,1732.5L2128.4,1733.3L2130.9,1734L2131.8,1734.2M2145.2,1738.2L2146,1738.4L2148.5,1739.2L2151,1739.9L2151.8,1740.1M2165.2,1744.1L2165.3,1744.1L2167.8,1744.9L2170.3,1745.6L2171.8,1746.1M2185.2,1750L2185.4,1750.1L2188,1750.9L2191.2,1751.8L2191.8,1752M2205.1,1756L2205.5,1756.1L2208,1756.9L2210.5,1757.6L2211.7,1758M2225.1,1762L2225.6,1762.2L2228.1,1762.9L2230.6,1763.7L2231.7,1764M2245.1,1768.1L2245.7,1768.3L2248.2,1769L2250.7,1769.8L2251.7,1770.1M2265,1774.2L2265.3,1774.3L2268.3,1775.2L2270.8,1775.9L2271.6,1776.2M2285,1780.3L2285.1,1780.3L2287.6,1781.1L2290.1,1781.8L2291.6,1782.3M2304.9,1786.4L2305.2,1786.5L2307.7,1787.3L2310.2,1788.1L2311.5,1788.5M2324.8,1792.6L2325.3,1792.7L2327.8,1793.5L2330.3,1794.3L2331.4,1794.7M2344.7,1798.8L2345.4,1799L2347.9,1799.8L2350.4,1800.6L2351.3,1800.9M2364.6,1805.1L2365.5,1805.3L2368,1806.1L2370.5,1806.9L2371.2,1807.1M2384.5,1811.3L2384.7,1811.4L2387.3,1812.2L2390.6,1813.2L2391.1,1813.4M2404.4,1817.6L2404.8,1817.8L2407.3,1818.6L2409.9,1819.4L2411,1819.7M2424.3,1824L2424.9,1824.2L2427.4,1825L2430,1825.8L2430.9,1826.1M2444.2,1830.3L2445,1830.6L2445.9,1830.9L2446.7,1831.1L2447.5,1831.4L2447.6,1831.4L2448.4,1831.7L2449.2,1831.9L2450.1,1832.2L2450.8,1832.4M2464.1,1836.7L2464.3,1836.8L2466.8,1837.6L2469.3,1838.4L2470.7,1838.8M2483.9,1843.1L2484.4,1843.3L2487.5,1844.3L2490.3,1845.2L2490.5,1845.3M2503.8,1849.6L2504.5,1849.8L2507,1850.6L2509.6,1851.5L2510.4,1851.7M2523.7,1856.1L2523.8,1856.1L2526.3,1856.9L2528.8,1857.8L2530.2,1858.2M2543.5,1862.6L2543.9,1862.7L2546.9,1863.7L2549.7,1864.6L2550.1,1864.8M2563.4,1869.1L2564,1869.3L2566.5,1870.2L2569.6,1871.2L2569.9,1871.3M2583.2,1875.7L2583.2,1875.7L2585.8,1876.5L2588.7,1877.5L2589.8,1877.9M2603.1,1882.3L2603.3,1882.4L2605.9,1883.2L2608.4,1884.1L2609.6,1884.5M2622.9,1888.9L2623.4,1889.1L2626,1889.9L2628.5,1890.8L2629.4,1891.1M2642.7,1895.6L2643,1895.7L2646.1,1896.7L2648.6,1897.5L2649.3,1897.8M2662.6,1902.2L2662.7,1902.3L2665.3,1903.2L2667.8,1904L2669.1,1904.5M2682.4,1908.9L2682.6,1909L2685.4,1910L2687.9,1910.8L2688.9,1911.2M2702.2,1915.7L2702.6,1915.8L2705.5,1916.8L2708,1917.7L2708.7,1917.9M2722,1922.4L2722.3,1922.5L2724.8,1923.4L2727.3,1924.2L2728.6,1924.7M2741.8,1929.2L2742.4,1929.4L2744.9,1930.3L2747.4,1931.1L2748.4,1931.5M2761.6,1936L2761.7,1936L2764.2,1936.9L2767.5,1938.1L2768.2,1938.3M2781.5,1942.9L2781.8,1943L2784.6,1943.9L2787.6,1945L2788,1945.1M2801.3,1949.7L2801.9,1949.9L2805.2,1951.1L2807.7,1952L2807.8,1952M2821.1,1956.6L2821.1,1956.6L2823.6,1957.5L2826.6,1958.5L2827.6,1958.9M2840.9,1963.5L2841.2,1963.6L2843.7,1964.5L2847.1,1965.7L2847.4,1965.8" fill="none" stroke="#0000FF" stroke-width="6.9" stroke-linejoin="round"/>
<rect x="142.00" y="1657.80" width="10.90" height="6.20" fill="#333333"/>
<rect x="142.00" y="1941.85" width="10.90" height="6.10" fill="#333333"/>
<rect x="142.00" y="2225.90" width="10.90" height="6.00" fill="#333333"/>
<rect x="228.00" y="2458.20" width="4.90" height="13.80" fill="#333333"/>
<rect x="802.00" y="2458.20" width="3.80" height="13.80" fill="#333333"/>
<rect x="1376.00" y="2458.20" width="3.80" height="13.80" fill="#333333"/>
<rect x="1950.00" y="2458.20" width="3.90" height="13.80" fill="#333333"/>
<text transform="translate(134.10,1676.80) scale(0.6830,1)" font-size="44.6" fill="#4D4D4D" stroke="#4D4D4D" stroke-width="0.2" text-anchor="end">0.2</text>
<text transform="translate(134.10,1960.80) scale(0.6830,1)" font-size="44.6" fill="#4D4D4D" stroke="#4D4D4D" stroke-width="0.2" text-anchor="end">0.1</text>
<text transform="translate(134.10,2244.80) scale(0.6830,1)" font-size="44.6" fill="#4D4D4D" stroke="#4D4D4D" stroke-width="0.2" text-anchor="end">0.0</text>
<text transform="translate(229.60,2513.90) scale(0.7000,1)" font-size="44.6" fill="#4D4D4D" stroke="#4D4D4D" stroke-width="0.2" text-anchor="middle">0</text>
<text transform="translate(803.46,2513.90) scale(0.7000,1)" font-size="44.6" fill="#4D4D4D" stroke="#4D4D4D" stroke-width="0.2" text-anchor="middle">2</text>
<text transform="translate(1377.32,2513.90) scale(0.7000,1)" font-size="44.6" fill="#4D4D4D" stroke="#4D4D4D" stroke-width="0.2" text-anchor="middle">4</text>
<text transform="translate(1951.18,2513.90) scale(0.7000,1)" font-size="44.6" fill="#4D4D4D" stroke="#4D4D4D" stroke-width="0.2" text-anchor="middle">6</text>
<text transform="translate(1133.30,2581.00) scale(0.6970,1)" font-size="54.3" fill="#000000" stroke="#000000" stroke-width="0.35" text-anchor="middle" word-spacing="4">normalized expenditure</text>
<text transform="translate(72.40,1947.75) rotate(-90) scale(1,0.7030)" font-size="54.3" fill="#000000" stroke="#000000" stroke-width="0.35" text-anchor="middle">share</text>
<text transform="translate(54.40,1947.95) rotate(-90) scale(1,0.9500)" font-size="46.5" fill="#000000" stroke="#000000" stroke-width="0.35" text-anchor="middle">^</text>
<text transform="translate(151.50,1389.30) scale(0.7050,1)" font-size="64.2" fill="#000000" stroke="#000000" stroke-width="0.35" text-anchor="start">(b) Housing</text>
</svg>
</body></html>
